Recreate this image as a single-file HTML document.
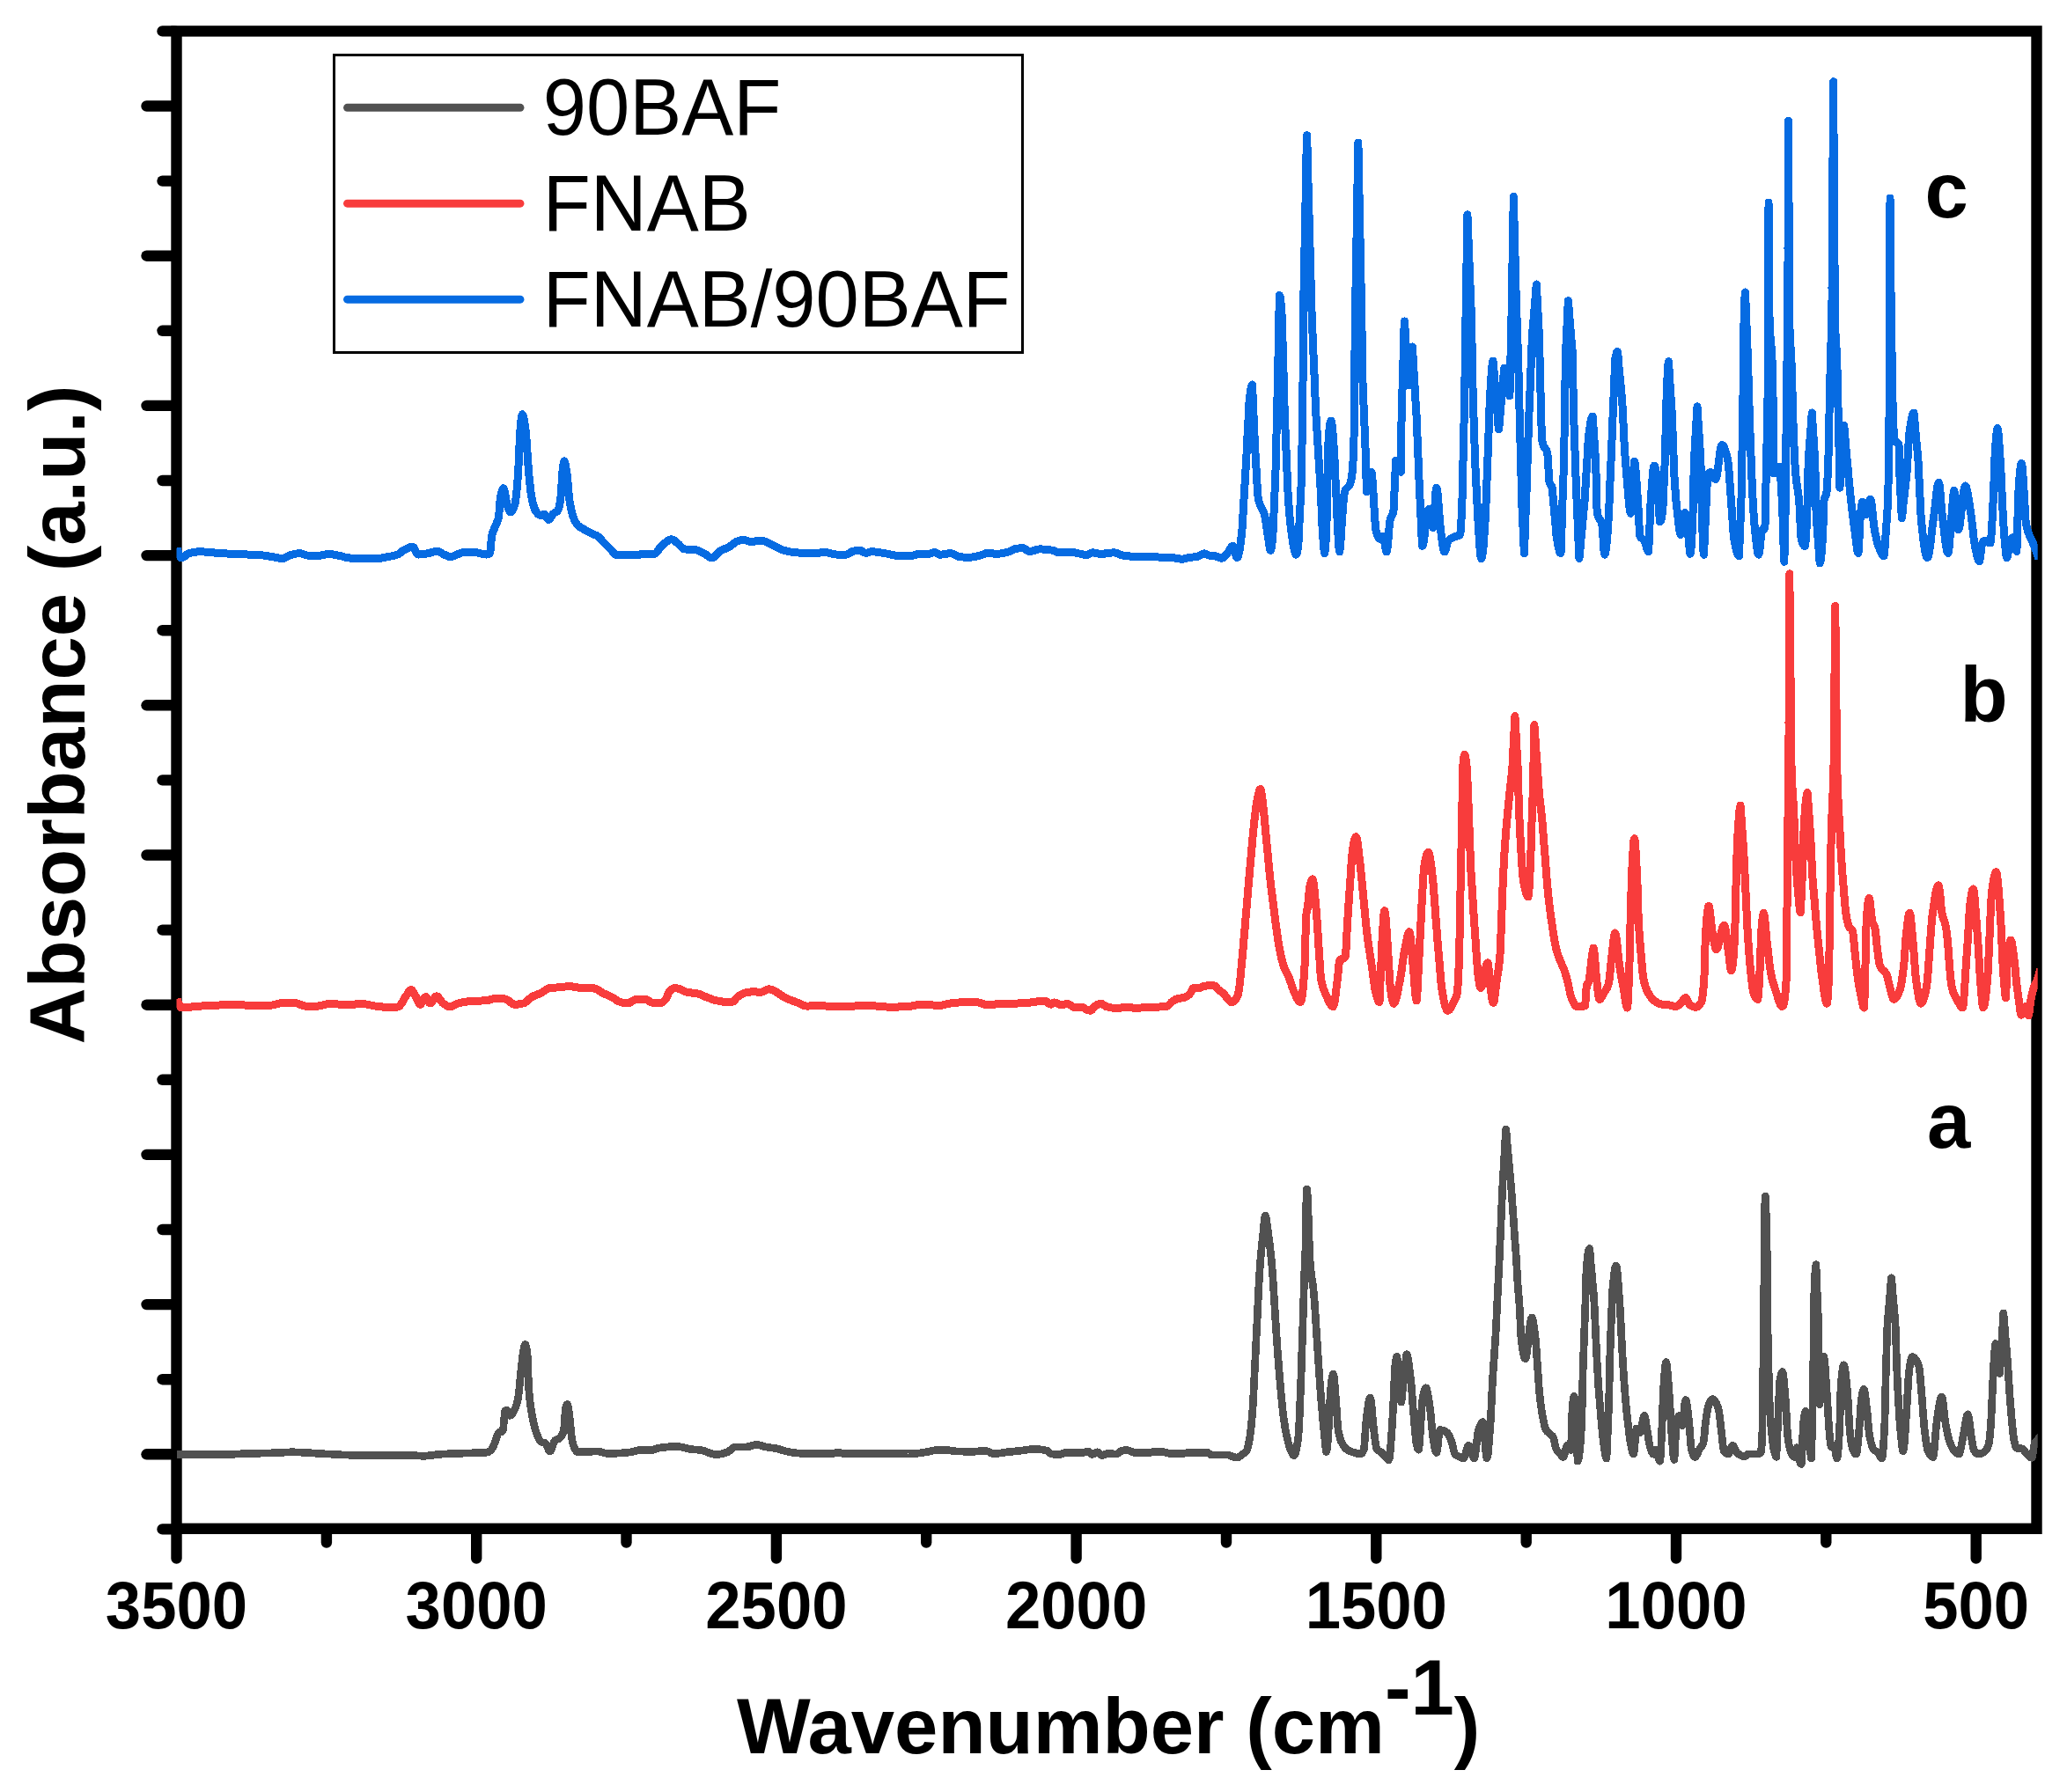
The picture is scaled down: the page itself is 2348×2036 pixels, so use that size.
<!DOCTYPE html>
<html><head><meta charset="utf-8"><title>FTIR</title>
<style>
html,body{margin:0;padding:0;background:#fff}
body{width:2348px;height:2036px;overflow:hidden}
svg{display:block}
text{font-family:"Liberation Sans",Arial,sans-serif;fill:#000}
.b{font-weight:bold}
</style></head><body>
<svg width="2348" height="2036" viewBox="0 0 2348 2036">
<rect width="2348" height="2036" fill="#fff"/>
<defs><clipPath id="cp"><rect x="200.5" y="35.4" width="2114.2" height="1701.3999999999999"/></clipPath></defs>

<g stroke="#000" stroke-width="12.4" stroke-linecap="round" fill="none">
<rect x="200.5" y="35.4" width="2113.0" height="1701.3999999999999" stroke-linejoin="miter"/>
<line x1="198.5" y1="120.5" x2="166.5" y2="120.5"/>
<line x1="198.5" y1="290.7" x2="166.5" y2="290.7"/>
<line x1="198.5" y1="460.9" x2="166.5" y2="460.9"/>
<line x1="198.5" y1="631.1" x2="166.5" y2="631.1"/>
<line x1="198.5" y1="801.3" x2="166.5" y2="801.3"/>
<line x1="198.5" y1="971.5" x2="166.5" y2="971.5"/>
<line x1="198.5" y1="1141.7" x2="166.5" y2="1141.7"/>
<line x1="198.5" y1="1311.9" x2="166.5" y2="1311.9"/>
<line x1="198.5" y1="1482.1" x2="166.5" y2="1482.1"/>
<line x1="198.5" y1="1652.3" x2="166.5" y2="1652.3"/>
<line x1="198.5" y1="35.4" x2="184.5" y2="35.4"/>
<line x1="198.5" y1="205.6" x2="184.5" y2="205.6"/>
<line x1="198.5" y1="375.8" x2="184.5" y2="375.8"/>
<line x1="198.5" y1="546.0" x2="184.5" y2="546.0"/>
<line x1="198.5" y1="716.2" x2="184.5" y2="716.2"/>
<line x1="198.5" y1="886.4" x2="184.5" y2="886.4"/>
<line x1="198.5" y1="1056.6" x2="184.5" y2="1056.6"/>
<line x1="198.5" y1="1226.8" x2="184.5" y2="1226.8"/>
<line x1="198.5" y1="1397.0" x2="184.5" y2="1397.0"/>
<line x1="198.5" y1="1567.2" x2="184.5" y2="1567.2"/>
<line x1="198.5" y1="1737.4" x2="184.5" y2="1737.4"/>
<line x1="200.5" y1="1738.8" x2="200.5" y2="1770.5"/>
<line x1="541.2" y1="1738.8" x2="541.2" y2="1770.5"/>
<line x1="881.9" y1="1738.8" x2="881.9" y2="1770.5"/>
<line x1="1222.6" y1="1738.8" x2="1222.6" y2="1770.5"/>
<line x1="1563.3" y1="1738.8" x2="1563.3" y2="1770.5"/>
<line x1="1904.0" y1="1738.8" x2="1904.0" y2="1770.5"/>
<line x1="2244.7" y1="1738.8" x2="2244.7" y2="1770.5"/>
<line x1="370.9" y1="1738.8" x2="370.9" y2="1752.5"/>
<line x1="711.5" y1="1738.8" x2="711.5" y2="1752.5"/>
<line x1="1052.2" y1="1738.8" x2="1052.2" y2="1752.5"/>
<line x1="1393.0" y1="1738.8" x2="1393.0" y2="1752.5"/>
<line x1="1733.7" y1="1738.8" x2="1733.7" y2="1752.5"/>
<line x1="2074.3" y1="1738.8" x2="2074.3" y2="1752.5"/>
</g>
<g fill="none" stroke-width="9" stroke-linejoin="round" stroke-linecap="butt" shape-rendering="crispEdges" clip-path="url(#cp)">
<polyline stroke="#515151" stroke-width="8.7" points="201.1,1652.7 207.4,1652.7 213.7,1652.7 220.0,1652.7 226.3,1652.6 232.5,1652.6 238.8,1652.5 245.1,1652.4 251.4,1652.4 257.7,1652.3 264.0,1652.2 265.7,1652.2 267.5,1652.1 269.2,1652.0 270.9,1652.0 272.6,1651.9 274.4,1651.8 276.1,1651.7 277.8,1651.6 279.6,1651.6 281.3,1651.5 284.5,1651.4 287.7,1651.3 290.9,1651.2 294.1,1651.2 297.4,1651.1 300.6,1651.0 303.8,1651.0 307.0,1650.9 310.2,1650.8 313.4,1650.7 315.2,1650.6 317.1,1650.5 318.9,1650.4 320.8,1650.3 322.6,1650.2 324.5,1650.1 326.3,1650.0 328.2,1649.9 330.0,1649.8 331.9,1649.8 333.8,1649.8 335.6,1649.9 337.4,1649.9 339.3,1650.0 341.1,1650.1 343.0,1650.2 344.8,1650.4 346.7,1650.5 348.5,1650.6 350.4,1650.7 352.6,1650.8 354.8,1650.9 357.1,1651.1 359.3,1651.2 361.5,1651.4 363.7,1651.5 365.9,1651.6 368.2,1651.8 370.4,1651.9 372.6,1652.0 375.3,1652.1 378.0,1652.3 380.7,1652.5 383.4,1652.6 386.1,1652.8 388.9,1652.9 391.6,1653.0 394.3,1653.1 397.0,1653.2 399.7,1653.2 403.4,1653.2 407.1,1653.2 410.8,1653.2 414.5,1653.2 418.2,1653.2 421.9,1653.2 425.6,1653.2 429.3,1653.2 433.0,1653.2 436.7,1653.2 439.2,1653.2 441.6,1653.2 444.1,1653.2 446.6,1653.2 449.0,1653.2 451.5,1653.2 454.0,1653.2 456.5,1653.2 458.9,1653.2 461.4,1653.2 463.4,1653.2 465.3,1653.3 467.3,1653.4 469.3,1653.6 471.2,1653.7 473.2,1653.8 475.2,1654.0 477.2,1654.1 479.1,1654.2 481.1,1654.2 483.1,1654.2 485.1,1654.0 487.0,1653.8 489.0,1653.6 491.0,1653.3 493.0,1653.1 495.0,1652.8 496.9,1652.6 498.9,1652.4 500.9,1652.2 503.9,1652.0 506.8,1651.9 509.8,1651.8 512.7,1651.6 515.7,1651.5 518.7,1651.4 521.6,1651.3 524.6,1651.2 527.5,1651.1 530.5,1651.0 532.7,1650.9 534.9,1650.9 537.2,1650.8 539.4,1650.8 541.6,1650.7 543.8,1650.7 546.0,1650.6 548.3,1650.5 550.5,1650.4 552.7,1650.2 553.4,1650.1 554.1,1649.9 554.8,1649.6 555.5,1649.2 556.2,1648.8 556.9,1648.3 557.6,1647.8 558.3,1647.0 559.0,1645.9 559.7,1644.6 560.5,1643.0 561.2,1641.3 561.9,1639.6 562.6,1637.9 563.3,1635.9 564.1,1633.5 564.8,1631.1 565.6,1629.2 566.3,1628.0 567.0,1627.5 567.7,1627.2 568.4,1627.0 569.1,1626.8 569.8,1626.6 570.5,1626.2 571.2,1625.6 571.8,1621.9 572.5,1614.6 573.1,1607.2 573.7,1603.4 574.3,1602.7 574.8,1602.3 575.4,1602.1 576.2,1602.7 577.0,1604.3 577.7,1606.1 578.5,1607.7 579.3,1608.3 580.1,1608.1 580.9,1607.5 581.7,1606.5 582.4,1605.3 583.2,1603.9 584.0,1602.4 584.8,1600.9 585.5,1599.3 586.3,1597.3 587.0,1594.8 587.8,1592.0 588.5,1588.6 589.2,1583.7 590.0,1576.9 590.7,1569.1 591.5,1561.1 592.2,1554.0 593.0,1546.7 593.8,1539.6 594.6,1534.3 595.3,1531.1 595.9,1528.5 596.6,1527.4 597.2,1528.3 597.9,1530.7 598.5,1534.5 599.1,1539.2 599.7,1549.9 600.2,1566.3 600.8,1578.7 601.5,1587.1 602.3,1593.9 603.0,1599.5 603.8,1604.1 604.5,1608.3 605.2,1612.0 605.9,1615.3 606.6,1618.4 607.3,1621.2 608.0,1623.7 608.7,1626.0 609.4,1628.0 610.1,1629.9 610.8,1631.7 611.5,1633.4 612.3,1635.0 613.0,1636.3 613.7,1637.3 614.4,1637.9 615.2,1638.3 615.9,1638.6 616.7,1638.8 617.5,1639.0 618.3,1639.2 619.0,1639.5 619.8,1639.9 620.5,1640.7 621.2,1642.2 621.9,1643.9 622.6,1645.7 623.3,1647.4 624.0,1648.5 624.7,1649.0 625.4,1648.5 626.1,1647.3 626.8,1645.5 627.5,1643.4 628.3,1641.3 629.0,1639.3 629.7,1637.7 630.4,1636.7 631.1,1636.2 631.8,1635.8 632.5,1635.6 633.2,1635.3 633.9,1635.0 634.6,1634.7 635.3,1634.2 636.0,1633.6 636.7,1632.9 637.4,1632.0 638.2,1630.8 638.9,1629.4 639.6,1627.7 640.3,1625.6 640.9,1620.5 641.5,1611.9 642.2,1603.3 642.8,1598.4 643.4,1596.9 643.9,1595.9 644.5,1595.5 645.3,1597.6 646.1,1602.5 646.9,1608.3 647.5,1613.9 648.1,1621.0 648.8,1628.0 649.4,1633.0 650.0,1636.4 650.7,1639.4 651.3,1641.8 652.0,1643.8 652.6,1645.3 653.3,1646.7 654.1,1647.9 654.8,1648.9 655.6,1649.6 656.3,1649.8 658.5,1649.8 660.7,1649.7 663.0,1649.6 665.2,1649.5 667.4,1649.4 669.6,1649.3 671.8,1649.2 674.1,1649.1 676.3,1649.0 678.5,1649.0 679.7,1649.1 681.0,1649.3 682.2,1649.5 683.5,1649.9 684.7,1650.2 685.9,1650.6 687.2,1651.0 688.4,1651.2 689.7,1651.4 690.9,1651.5 693.3,1651.5 695.7,1651.4 698.0,1651.3 700.4,1651.2 702.8,1651.1 705.2,1650.9 707.6,1650.7 709.9,1650.5 712.3,1650.3 714.7,1650.1 715.9,1649.9 717.2,1649.7 718.4,1649.4 719.6,1649.0 720.9,1648.7 722.1,1648.4 723.3,1648.1 724.5,1647.8 725.8,1647.7 727.0,1647.6 728.2,1647.6 729.5,1647.6 730.7,1647.6 731.9,1647.6 733.1,1647.6 734.4,1647.6 735.6,1647.6 736.8,1647.6 738.1,1647.6 739.3,1647.6 740.3,1647.5 741.3,1647.4 742.3,1647.1 743.3,1646.8 744.2,1646.5 745.2,1646.2 746.2,1645.8 747.2,1645.5 748.2,1645.3 749.2,1645.1 751.2,1644.8 753.2,1644.6 755.1,1644.3 757.1,1644.1 759.1,1643.9 761.1,1643.7 763.1,1643.6 765.0,1643.5 767.0,1643.4 769.0,1643.4 770.5,1643.5 772.0,1643.7 773.4,1643.9 774.9,1644.3 776.4,1644.7 777.9,1645.1 779.4,1645.5 780.8,1645.8 782.3,1646.2 783.8,1646.4 785.0,1646.5 786.3,1646.7 787.5,1646.8 788.7,1646.9 790.0,1647.0 791.2,1647.1 792.4,1647.2 793.6,1647.3 794.9,1647.4 796.1,1647.6 797.8,1647.9 799.6,1648.4 801.3,1649.0 803.0,1649.7 804.8,1650.4 806.5,1651.0 808.2,1651.6 809.9,1652.1 811.7,1652.4 813.4,1652.5 814.6,1652.5 815.9,1652.4 817.1,1652.2 818.3,1652.0 819.5,1651.8 820.8,1651.5 822.0,1651.2 823.2,1650.8 824.5,1650.5 825.7,1650.1 826.7,1649.7 827.7,1649.1 828.7,1648.3 829.7,1647.5 830.7,1646.6 831.6,1645.8 832.6,1645.1 833.6,1644.4 834.6,1644.0 835.6,1643.9 836.8,1643.9 838.1,1643.9 839.3,1643.9 840.5,1643.9 841.8,1643.9 843.0,1643.9 844.2,1643.9 845.4,1643.9 846.7,1643.9 847.9,1643.9 849.0,1643.8 850.1,1643.6 851.2,1643.4 852.3,1643.0 853.5,1642.7 854.6,1642.3 855.7,1641.9 856.8,1641.7 857.9,1641.5 859.0,1641.4 860.1,1641.5 861.2,1641.6 862.3,1641.8 863.4,1642.1 864.5,1642.4 865.7,1642.7 866.8,1643.1 867.9,1643.4 869.0,1643.7 870.1,1643.9 871.3,1644.1 872.6,1644.3 873.8,1644.5 875.1,1644.7 876.3,1644.9 877.5,1645.1 878.8,1645.2 880.0,1645.4 881.3,1645.7 882.5,1645.9 883.7,1646.2 885.0,1646.5 886.2,1646.9 887.4,1647.3 888.6,1647.7 889.9,1648.0 891.1,1648.4 892.3,1648.8 893.6,1649.1 894.8,1649.3 896.5,1649.6 898.3,1649.9 900.0,1650.2 901.7,1650.4 903.5,1650.7 905.2,1650.9 906.9,1651.0 908.6,1651.2 910.4,1651.3 912.1,1651.3 915.6,1651.3 919.0,1651.3 922.5,1651.3 925.9,1651.3 929.4,1651.3 932.8,1651.3 936.2,1651.3 939.7,1651.3 943.1,1651.3 946.6,1651.3 947.3,1651.2 948.0,1651.1 948.7,1650.9 949.4,1650.7 950.1,1650.5 950.8,1650.4 951.5,1650.3 952.5,1650.3 953.5,1650.5 954.5,1650.6 955.5,1650.8 956.5,1651.0 957.4,1651.3 958.4,1651.5 959.4,1651.6 960.4,1651.8 961.4,1651.8 964.9,1651.8 968.3,1651.7 971.8,1651.7 975.2,1651.6 978.6,1651.5 982.1,1651.5 985.5,1651.4 989.0,1651.4 992.4,1651.3 995.9,1651.3 999.9,1651.3 1003.8,1651.4 1007.8,1651.4 1011.7,1651.5 1015.7,1651.5 1019.6,1651.6 1023.6,1651.7 1027.5,1651.7 1031.5,1651.8 1035.4,1651.8 1036.9,1651.8 1038.4,1651.7 1039.8,1651.6 1041.3,1651.4 1042.8,1651.2 1044.3,1651.0 1045.8,1650.8 1047.2,1650.5 1048.7,1650.3 1050.2,1650.1 1051.7,1649.9 1053.2,1649.6 1054.6,1649.3 1056.1,1648.9 1057.6,1648.6 1059.1,1648.3 1060.6,1648.0 1062.0,1647.8 1063.5,1647.7 1065.0,1647.6 1066.0,1647.6 1067.0,1647.6 1068.0,1647.6 1069.0,1647.6 1070.0,1647.6 1070.9,1647.6 1071.9,1647.6 1072.9,1647.6 1073.9,1647.6 1074.9,1647.6 1075.9,1647.6 1076.9,1647.7 1077.9,1647.8 1078.9,1648.0 1079.8,1648.1 1080.8,1648.3 1081.8,1648.5 1082.8,1648.6 1083.8,1648.7 1084.8,1648.8 1086.8,1648.9 1088.7,1649.0 1090.7,1649.0 1092.7,1649.1 1094.7,1649.2 1096.6,1649.2 1098.6,1649.2 1100.6,1649.3 1102.5,1649.3 1104.5,1649.3 1106.0,1649.3 1107.5,1649.2 1108.9,1649.1 1110.4,1648.9 1111.9,1648.8 1113.4,1648.7 1114.9,1648.5 1116.3,1648.4 1117.8,1648.3 1119.3,1648.3 1120.3,1648.4 1121.3,1648.7 1122.3,1649.1 1123.3,1649.5 1124.2,1650.0 1125.2,1650.6 1126.2,1651.0 1127.2,1651.4 1128.2,1651.7 1129.2,1651.8 1130.4,1651.8 1131.7,1651.7 1132.9,1651.5 1134.1,1651.3 1135.3,1651.1 1136.6,1650.9 1137.8,1650.7 1139.0,1650.5 1140.3,1650.3 1141.5,1650.1 1143.2,1649.9 1145.0,1649.7 1146.7,1649.5 1148.4,1649.3 1150.2,1649.2 1151.9,1649.0 1153.6,1648.8 1155.3,1648.7 1157.1,1648.5 1158.8,1648.3 1160.5,1648.1 1162.3,1647.9 1164.0,1647.6 1165.7,1647.4 1167.4,1647.1 1169.2,1646.9 1170.9,1646.7 1172.6,1646.5 1174.4,1646.4 1176.1,1646.4 1177.5,1646.4 1178.9,1646.5 1180.3,1646.6 1181.7,1646.8 1183.1,1647.0 1184.5,1647.2 1185.9,1647.5 1187.3,1647.8 1188.7,1648.2 1190.1,1648.6 1190.8,1649.0 1191.6,1649.8 1192.3,1650.6 1193.1,1651.3 1193.8,1651.7 1194.7,1651.9 1195.6,1652.1 1196.4,1652.2 1197.3,1652.3 1198.2,1652.4 1199.1,1652.5 1200.0,1652.6 1200.8,1652.7 1201.7,1652.7 1202.6,1652.7 1203.5,1652.6 1204.4,1652.5 1205.2,1652.2 1206.1,1651.9 1207.0,1651.6 1207.9,1651.2 1208.8,1650.9 1209.6,1650.6 1210.5,1650.5 1211.4,1650.4 1212.4,1650.4 1213.4,1650.4 1214.4,1650.5 1215.4,1650.5 1216.5,1650.5 1217.5,1650.6 1218.5,1650.6 1219.5,1650.7 1220.5,1650.7 1221.5,1650.7 1222.4,1650.7 1223.3,1650.7 1224.1,1650.7 1225.0,1650.6 1225.9,1650.6 1226.8,1650.6 1227.7,1650.5 1228.5,1650.5 1229.4,1650.5 1230.3,1650.4 1231.0,1650.3 1231.7,1650.1 1232.4,1649.9 1233.2,1649.6 1233.9,1649.3 1234.6,1649.1 1235.3,1649.0 1236.0,1648.9 1236.7,1649.2 1237.5,1649.8 1238.2,1650.6 1238.9,1651.4 1239.7,1652.0 1240.4,1652.3 1241.2,1652.2 1242.0,1651.9 1242.8,1651.5 1243.6,1651.0 1244.3,1650.6 1245.1,1650.2 1245.9,1649.9 1246.7,1649.8 1247.4,1650.0 1248.1,1650.6 1248.8,1651.3 1249.6,1652.1 1250.3,1652.8 1251.0,1653.4 1251.7,1653.6 1252.5,1653.5 1253.3,1653.3 1254.1,1653.0 1254.8,1652.7 1255.6,1652.3 1256.4,1652.0 1257.2,1651.8 1258.0,1651.7 1259.0,1651.7 1260.0,1651.7 1261.0,1651.7 1262.0,1651.8 1263.0,1651.8 1264.1,1651.8 1265.1,1651.9 1266.1,1651.9 1267.1,1651.9 1268.1,1651.9 1268.8,1651.8 1269.6,1651.5 1270.3,1651.1 1271.1,1650.5 1271.8,1650.0 1272.6,1649.4 1273.3,1648.8 1274.1,1648.4 1274.8,1648.1 1275.6,1647.9 1276.3,1647.9 1277.0,1647.8 1277.7,1647.8 1278.5,1647.7 1279.2,1647.7 1279.9,1647.7 1280.6,1647.7 1281.5,1647.8 1282.4,1648.0 1283.2,1648.3 1284.1,1648.7 1285.0,1649.1 1285.9,1649.4 1286.8,1649.8 1287.6,1650.1 1288.5,1650.3 1289.4,1650.4 1291.0,1650.4 1292.7,1650.4 1294.3,1650.4 1296.0,1650.4 1297.6,1650.4 1299.2,1650.4 1300.9,1650.4 1302.5,1650.4 1304.2,1650.4 1305.8,1650.4 1306.6,1650.3 1307.4,1650.2 1308.2,1650.0 1308.9,1649.8 1309.7,1649.6 1310.5,1649.4 1311.3,1649.3 1312.1,1649.2 1312.8,1649.2 1313.6,1649.2 1314.3,1649.2 1315.1,1649.2 1315.8,1649.3 1316.6,1649.3 1317.3,1649.3 1318.1,1649.3 1318.8,1649.4 1319.6,1649.4 1320.7,1649.5 1321.9,1649.7 1323.0,1650.0 1324.1,1650.3 1325.2,1650.6 1326.4,1650.9 1327.5,1651.2 1328.6,1651.5 1329.8,1651.6 1330.9,1651.7 1332.2,1651.7 1333.4,1651.7 1334.7,1651.7 1335.9,1651.6 1337.2,1651.6 1338.5,1651.6 1339.7,1651.5 1341.0,1651.5 1342.2,1651.5 1343.5,1651.4 1344.3,1651.3 1345.0,1651.3 1345.8,1651.1 1346.5,1651.0 1347.3,1650.9 1348.1,1650.7 1348.8,1650.6 1349.6,1650.5 1350.3,1650.4 1351.1,1650.4 1353.1,1650.4 1355.1,1650.4 1357.1,1650.4 1359.1,1650.4 1361.2,1650.4 1363.2,1650.4 1365.2,1650.4 1367.2,1650.4 1369.2,1650.4 1371.2,1650.4 1371.9,1650.5 1372.6,1650.9 1373.3,1651.4 1374.1,1652.0 1374.8,1652.5 1375.5,1652.9 1376.2,1653.0 1378.0,1653.0 1379.7,1653.0 1381.5,1653.0 1383.2,1653.0 1385.0,1653.0 1386.8,1653.0 1388.5,1653.0 1390.3,1653.0 1392.0,1653.0 1393.8,1653.0 1394.6,1653.1 1395.4,1653.2 1396.2,1653.4 1396.9,1653.7 1397.7,1654.0 1398.5,1654.3 1399.3,1654.6 1400.1,1654.8 1400.8,1655.0 1401.6,1655.3 1402.3,1655.5 1403.0,1655.7 1403.7,1655.9 1404.5,1656.1 1405.2,1656.1 1406.0,1656.0 1406.8,1655.7 1407.5,1655.3 1408.3,1654.7 1409.1,1654.1 1409.9,1653.5 1410.6,1652.9 1411.4,1652.3 1412.1,1651.8 1412.8,1651.4 1413.6,1650.9 1414.3,1650.4 1415.0,1649.7 1415.7,1648.9 1416.4,1647.6 1417.1,1645.7 1417.8,1643.1 1418.4,1640.0 1419.1,1636.5 1419.8,1632.7 1420.4,1628.4 1421.1,1622.8 1421.7,1616.2 1422.4,1608.7 1423.0,1600.4 1423.6,1590.4 1424.2,1578.1 1424.9,1564.8 1425.5,1551.8 1426.1,1539.8 1426.7,1527.7 1427.3,1515.5 1427.9,1503.3 1428.5,1490.8 1429.1,1478.1 1429.7,1465.8 1430.3,1454.7 1430.8,1445.8 1431.4,1437.6 1431.9,1430.5 1432.6,1423.2 1433.2,1416.8 1433.8,1410.9 1434.5,1405.0 1435.2,1397.6 1435.9,1389.8 1436.6,1383.5 1437.3,1381.0 1437.9,1382.3 1438.6,1385.5 1439.2,1390.1 1439.9,1395.2 1440.5,1400.0 1441.2,1405.3 1442.0,1410.9 1442.7,1416.9 1443.4,1423.5 1444.2,1430.6 1444.9,1438.5 1445.7,1448.9 1446.5,1461.2 1447.3,1474.4 1448.1,1487.1 1448.7,1497.0 1449.4,1507.0 1450.0,1516.9 1450.7,1526.6 1451.3,1535.6 1452.0,1544.4 1452.6,1552.8 1453.3,1560.9 1453.9,1568.6 1454.6,1576.1 1455.2,1583.2 1455.9,1590.3 1456.5,1597.0 1457.2,1603.1 1457.8,1608.4 1458.5,1613.4 1459.2,1617.9 1459.8,1622.1 1460.5,1626.0 1461.2,1629.5 1461.9,1632.7 1462.7,1636.2 1463.5,1639.6 1464.3,1642.6 1465.1,1645.2 1465.9,1647.3 1466.6,1648.8 1467.3,1650.3 1468.0,1651.7 1468.6,1652.8 1469.3,1653.5 1470.0,1653.8 1470.8,1653.1 1471.6,1651.1 1472.4,1647.9 1473.2,1643.7 1474.0,1638.6 1474.8,1632.7 1475.4,1625.2 1476.0,1613.3 1476.6,1599.0 1477.2,1584.2 1477.6,1573.2 1478.1,1561.1 1478.5,1548.3 1478.9,1535.6 1479.3,1523.7 1479.7,1511.5 1480.1,1499.3 1480.5,1487.1 1480.9,1474.1 1481.3,1460.4 1481.7,1447.9 1482.1,1438.5 1482.7,1430.0 1482.9,1419.6 1483.1,1403.4 1483.3,1390.0 1483.7,1371.8 1484.1,1357.1 1484.5,1351.0 1485.2,1357.6 1485.8,1372.9 1486.5,1390.0 1487.0,1403.7 1487.4,1419.0 1487.9,1430.0 1488.7,1439.8 1489.5,1447.0 1490.2,1452.5 1491.0,1457.6 1491.8,1463.4 1492.6,1470.9 1493.2,1479.0 1493.9,1488.6 1494.5,1498.9 1495.2,1509.4 1495.8,1519.4 1496.5,1529.3 1497.1,1539.3 1497.8,1549.2 1498.4,1558.8 1499.1,1568.0 1499.7,1576.6 1500.4,1585.0 1501.0,1593.2 1501.7,1601.0 1502.3,1608.4 1502.9,1614.9 1503.5,1621.1 1504.1,1627.0 1504.7,1632.7 1505.4,1639.8 1506.0,1646.7 1506.7,1649.7 1507.4,1646.6 1508.2,1638.5 1508.9,1627.8 1509.6,1616.5 1510.1,1605.9 1510.7,1593.5 1511.2,1584.2 1511.8,1577.2 1512.5,1570.8 1513.1,1565.7 1513.8,1562.3 1514.4,1561.0 1515.1,1563.1 1515.7,1568.5 1516.4,1575.9 1517.0,1584.3 1517.7,1592.3 1518.5,1603.6 1519.3,1616.1 1520.1,1624.6 1520.8,1628.3 1521.5,1631.4 1522.2,1633.9 1522.8,1636.0 1523.5,1637.8 1524.2,1639.2 1525.0,1640.7 1525.8,1642.0 1526.6,1643.2 1527.4,1644.3 1528.2,1645.2 1529.0,1646.1 1529.8,1646.7 1530.6,1647.3 1531.4,1647.8 1532.2,1648.2 1533.0,1648.6 1533.8,1648.9 1534.7,1649.2 1535.5,1649.5 1536.3,1649.8 1537.1,1650.0 1537.9,1650.3 1538.7,1650.5 1539.4,1650.7 1540.1,1651.0 1540.9,1651.2 1541.6,1651.4 1542.3,1651.6 1543.0,1651.8 1543.8,1652.0 1544.5,1652.1 1545.2,1652.1 1546.0,1651.9 1546.8,1651.3 1547.6,1650.3 1548.4,1649.0 1549.2,1647.3 1549.8,1642.6 1550.5,1633.8 1551.1,1624.0 1551.7,1616.5 1552.5,1609.8 1553.3,1603.2 1554.1,1597.3 1554.9,1592.5 1555.7,1589.3 1556.5,1588.1 1557.2,1590.1 1557.9,1595.3 1558.5,1602.5 1559.2,1610.6 1559.9,1618.3 1560.6,1624.6 1561.2,1629.7 1561.9,1635.0 1562.5,1639.8 1563.2,1643.6 1563.8,1645.7 1564.5,1646.7 1565.2,1647.5 1565.9,1648.1 1566.7,1648.6 1567.4,1649.0 1568.1,1649.4 1568.8,1649.9 1569.5,1650.5 1570.1,1651.1 1570.8,1651.8 1571.4,1652.5 1572.1,1653.1 1572.7,1653.8 1573.4,1654.6 1574.1,1655.5 1574.8,1656.4 1575.5,1657.2 1576.2,1657.9 1576.9,1658.4 1577.6,1658.6 1578.4,1656.1 1579.2,1649.3 1580.0,1639.7 1580.8,1628.3 1581.6,1616.5 1582.1,1607.1 1582.7,1595.6 1583.2,1584.2 1583.7,1572.0 1584.3,1559.8 1584.8,1551.8 1585.5,1546.4 1586.2,1542.6 1586.9,1541.1 1587.4,1545.4 1588.0,1552.5 1588.7,1559.8 1589.3,1567.1 1590.0,1574.4 1590.7,1581.7 1591.3,1588.8 1591.8,1593.1 1592.5,1588.6 1593.1,1581.1 1593.8,1575.0 1594.5,1568.9 1595.1,1562.9 1595.8,1556.8 1596.5,1550.7 1597.1,1543.2 1597.8,1538.7 1598.6,1539.9 1599.4,1543.3 1600.2,1548.4 1601.0,1554.5 1601.8,1561.2 1602.6,1568.0 1603.3,1574.5 1603.9,1582.7 1604.6,1591.6 1605.2,1600.4 1605.9,1608.4 1606.7,1617.8 1607.5,1627.4 1608.3,1635.5 1609.1,1640.8 1609.7,1643.2 1610.3,1645.3 1610.9,1646.8 1611.5,1647.3 1612.1,1644.1 1612.8,1636.2 1613.4,1626.1 1614.0,1616.5 1614.8,1603.0 1615.6,1592.3 1616.4,1587.2 1617.2,1582.9 1618.0,1579.6 1618.8,1577.5 1619.6,1576.7 1620.3,1577.4 1621.0,1579.5 1621.7,1582.6 1622.4,1586.5 1623.1,1590.9 1623.8,1595.6 1624.5,1600.4 1625.1,1605.9 1625.8,1613.0 1626.4,1620.5 1627.1,1627.5 1627.7,1632.7 1628.4,1636.9 1629.1,1641.1 1629.8,1644.8 1630.4,1647.8 1631.1,1649.8 1631.8,1650.5 1632.6,1647.8 1633.4,1641.4 1634.2,1633.7 1635.0,1627.3 1635.8,1624.6 1636.6,1624.6 1637.4,1624.8 1638.2,1624.9 1639.0,1625.2 1639.8,1625.5 1640.7,1625.9 1641.5,1626.3 1642.3,1626.8 1643.1,1627.3 1643.9,1627.9 1644.6,1628.6 1645.3,1629.6 1646.0,1630.9 1646.7,1632.4 1647.4,1634.0 1648.1,1635.8 1648.8,1637.6 1649.6,1640.3 1650.4,1643.8 1651.2,1647.4 1652.0,1650.4 1652.8,1652.1 1653.5,1652.8 1654.2,1653.3 1654.9,1653.8 1655.7,1654.2 1656.4,1654.5 1657.1,1654.8 1657.8,1655.1 1658.5,1655.4 1659.3,1655.8 1660.1,1656.2 1660.9,1656.6 1661.7,1656.9 1662.5,1657.0 1663.2,1656.4 1663.9,1654.7 1664.6,1652.4 1665.3,1649.7 1666.1,1647.0 1666.8,1644.7 1667.5,1643.0 1668.2,1642.4 1669.0,1643.0 1669.8,1644.7 1670.6,1647.0 1671.4,1649.7 1672.2,1652.4 1673.0,1654.7 1673.8,1656.4 1674.6,1657.0 1675.3,1655.4 1676.0,1651.4 1676.7,1645.7 1677.4,1639.3 1678.1,1633.1 1678.8,1627.9 1679.5,1624.6 1680.2,1622.6 1680.9,1620.8 1681.6,1619.1 1682.3,1617.7 1683.0,1616.7 1683.7,1615.9 1684.4,1615.7 1685.2,1618.8 1685.9,1626.4 1686.7,1636.3 1687.5,1646.3 1688.2,1653.9 1689.0,1657.0 1689.7,1655.3 1690.4,1650.7 1691.0,1643.8 1691.7,1635.3 1692.4,1626.0 1693.1,1616.5 1693.7,1606.2 1694.3,1593.3 1694.9,1579.8 1695.5,1568.0 1696.2,1557.5 1696.8,1548.2 1697.5,1539.2 1698.1,1529.9 1698.8,1519.4 1699.4,1508.3 1700.0,1496.1 1700.6,1483.4 1701.2,1470.9 1701.8,1459.0 1702.4,1447.2 1703.0,1435.1 1703.6,1422.4 1703.9,1414.6 1704.3,1406.5 1704.9,1393.0 1705.4,1379.4 1706.0,1365.9 1706.4,1357.7 1706.7,1350.0 1707.1,1342.3 1707.6,1335.3 1708.3,1322.8 1709.0,1310.2 1709.7,1297.7 1710.2,1288.5 1710.6,1283.0 1711.3,1288.5 1711.9,1297.7 1712.6,1305.2 1713.3,1312.7 1714.0,1320.3 1714.7,1327.8 1715.4,1335.3 1716.0,1342.4 1716.7,1350.0 1717.3,1358.5 1718.0,1367.6 1718.8,1378.8 1719.6,1390.0 1720.3,1401.2 1721.1,1412.4 1721.8,1421.0 1722.4,1430.0 1723.1,1442.4 1723.8,1454.7 1724.4,1463.2 1725.0,1470.6 1725.7,1478.2 1726.3,1487.1 1726.8,1498.2 1727.4,1510.8 1727.9,1519.4 1728.7,1526.2 1729.5,1532.1 1730.3,1536.9 1731.1,1540.6 1731.9,1542.9 1732.7,1543.7 1733.4,1542.4 1734.2,1538.8 1734.9,1533.6 1735.6,1527.3 1736.3,1520.4 1737.1,1513.4 1737.8,1507.1 1738.5,1501.9 1739.3,1498.3 1740.0,1497.0 1740.7,1497.9 1741.4,1500.4 1742.0,1504.1 1742.7,1508.7 1743.4,1513.9 1744.1,1519.4 1744.7,1525.7 1745.3,1534.0 1745.9,1543.1 1746.5,1551.8 1747.1,1560.3 1747.7,1569.2 1748.3,1577.4 1748.9,1584.2 1749.6,1590.2 1750.2,1595.6 1750.9,1600.4 1751.5,1604.7 1752.2,1608.4 1753.0,1612.6 1753.8,1616.5 1754.6,1620.0 1755.4,1622.8 1756.2,1624.6 1756.9,1625.6 1757.6,1626.5 1758.3,1627.1 1759.0,1627.7 1759.7,1628.3 1760.4,1628.9 1761.1,1629.5 1761.7,1630.1 1762.4,1630.6 1763.0,1631.1 1763.7,1631.8 1764.3,1632.7 1764.9,1634.5 1765.6,1637.4 1766.2,1640.7 1766.9,1643.7 1767.5,1645.7 1768.2,1647.0 1768.9,1648.1 1769.6,1649.0 1770.3,1649.9 1771.0,1650.6 1771.7,1651.3 1772.4,1652.1 1773.2,1653.1 1774.0,1654.2 1774.8,1655.1 1775.6,1655.4 1776.3,1654.7 1777.0,1652.8 1777.7,1650.3 1778.4,1647.5 1779.1,1645.0 1779.8,1643.1 1780.5,1642.4 1781.3,1642.9 1782.1,1644.1 1782.9,1645.6 1783.7,1646.8 1784.5,1647.3 1784.8,1640.5 1785.0,1626.9 1785.3,1616.5 1785.9,1604.7 1786.5,1595.2 1787.2,1588.7 1787.8,1586.4 1788.4,1587.8 1789.1,1591.8 1789.7,1598.1 1790.4,1606.4 1791.0,1616.5 1791.3,1625.9 1791.5,1640.7 1791.8,1654.2 1792.1,1660.2 1792.9,1659.0 1793.6,1655.2 1794.4,1649.1 1795.2,1640.6 1795.9,1629.7 1796.7,1616.5 1796.9,1610.3 1797.1,1602.3 1797.4,1590.2 1797.6,1578.1 1797.9,1566.0 1798.1,1558.6 1798.3,1551.8 1798.6,1544.3 1798.8,1537.6 1799.3,1525.5 1799.7,1513.4 1800.2,1501.3 1800.4,1494.3 1800.7,1487.1 1801.1,1474.0 1801.5,1459.3 1801.9,1446.4 1802.3,1438.5 1803.0,1431.8 1803.6,1426.3 1804.3,1422.1 1804.9,1419.5 1805.6,1418.6 1806.1,1422.9 1806.7,1430.1 1807.3,1437.4 1808.0,1444.8 1808.7,1452.1 1809.3,1459.4 1809.9,1464.8 1810.4,1470.9 1811.0,1480.8 1811.6,1493.3 1812.2,1506.7 1812.8,1519.4 1813.4,1532.2 1814.0,1545.1 1814.7,1557.3 1815.3,1568.0 1815.9,1577.4 1816.6,1585.9 1817.2,1593.7 1817.9,1601.2 1818.5,1608.4 1819.1,1615.7 1819.8,1622.9 1820.4,1629.8 1821.1,1635.9 1821.7,1640.8 1822.4,1645.3 1823.0,1649.7 1823.7,1653.4 1824.3,1656.0 1825.0,1657.0 1825.5,1644.5 1826.0,1634.0 1826.4,1623.4 1826.9,1612.9 1827.4,1600.4 1827.6,1593.7 1827.8,1586.1 1828.1,1574.0 1828.3,1562.0 1828.6,1549.9 1828.8,1542.4 1829.0,1535.6 1829.3,1528.1 1829.5,1521.4 1830.0,1509.3 1830.4,1497.2 1830.9,1485.1 1831.1,1477.1 1831.4,1470.9 1832.1,1461.5 1832.9,1453.5 1833.6,1447.0 1834.3,1442.1 1835.1,1439.1 1835.8,1438.1 1836.5,1440.2 1837.3,1446.0 1838.0,1454.5 1838.8,1464.8 1839.5,1476.0 1840.3,1487.1 1840.9,1497.7 1841.5,1510.5 1842.2,1523.7 1842.8,1535.6 1843.4,1546.4 1844.1,1556.9 1844.7,1566.8 1845.4,1575.9 1846.0,1584.2 1846.6,1591.7 1847.3,1598.5 1847.9,1604.9 1848.6,1610.9 1849.2,1616.5 1849.9,1622.1 1850.5,1627.6 1851.2,1632.7 1851.8,1637.2 1852.5,1640.8 1853.1,1643.9 1853.8,1647.0 1854.4,1649.6 1855.1,1651.4 1855.7,1652.1 1856.3,1649.1 1857.0,1641.9 1857.6,1633.2 1858.3,1626.0 1858.9,1623.0 1859.6,1623.4 1860.3,1624.3 1861.0,1625.5 1861.6,1626.6 1862.3,1627.5 1863.0,1627.9 1863.8,1626.4 1864.6,1622.8 1865.4,1618.1 1866.2,1613.4 1867.0,1609.8 1867.8,1608.3 1868.5,1609.4 1869.1,1612.3 1869.8,1616.3 1870.4,1620.6 1871.1,1624.6 1871.7,1628.5 1872.4,1633.0 1873.0,1637.4 1873.7,1641.3 1874.3,1644.0 1875.0,1646.0 1875.7,1647.9 1876.3,1649.6 1877.0,1650.9 1877.7,1651.8 1878.4,1652.1 1879.2,1650.9 1880.0,1648.5 1880.8,1647.3 1881.6,1648.3 1882.4,1650.6 1883.2,1653.7 1884.0,1656.9 1884.8,1659.2 1885.6,1660.2 1886.2,1655.8 1886.8,1644.9 1887.5,1630.7 1888.1,1616.5 1888.6,1602.8 1889.2,1587.6 1889.7,1576.1 1890.4,1565.6 1891.2,1556.5 1891.9,1550.0 1892.6,1547.6 1893.3,1549.9 1894.0,1556.0 1894.8,1564.6 1895.5,1574.5 1896.2,1584.2 1897.0,1596.9 1897.8,1611.7 1898.6,1624.6 1899.2,1633.5 1899.9,1642.6 1900.5,1650.7 1901.2,1656.4 1901.8,1658.6 1902.4,1652.6 1903.0,1639.0 1903.7,1624.7 1904.3,1616.5 1904.9,1613.8 1905.6,1611.6 1906.2,1609.9 1906.9,1608.8 1907.5,1608.4 1908.1,1609.6 1908.8,1612.4 1909.4,1615.8 1910.1,1618.6 1910.7,1619.8 1911.4,1617.6 1912.1,1612.2 1912.8,1605.2 1913.4,1598.1 1914.1,1592.7 1914.8,1590.5 1915.6,1592.1 1916.4,1596.3 1917.2,1602.3 1918.0,1609.3 1918.8,1616.5 1919.4,1623.5 1920.0,1632.4 1920.6,1640.7 1921.2,1645.7 1921.9,1648.4 1922.6,1650.8 1923.2,1652.7 1923.9,1654.2 1924.6,1655.1 1925.3,1655.4 1926.0,1655.1 1926.7,1654.3 1927.4,1653.2 1928.2,1651.7 1928.9,1650.2 1929.6,1648.5 1930.3,1647.0 1931.0,1645.7 1931.8,1644.6 1932.6,1643.6 1933.4,1642.5 1934.2,1641.2 1935.0,1639.2 1935.6,1635.5 1936.2,1629.2 1936.8,1622.2 1937.4,1616.5 1938.1,1611.6 1938.7,1607.0 1939.4,1602.8 1940.0,1599.4 1940.7,1597.1 1941.5,1595.1 1942.3,1593.4 1943.1,1591.9 1943.9,1590.7 1944.7,1590.0 1945.5,1589.7 1946.2,1589.9 1946.9,1590.3 1947.7,1591.1 1948.4,1592.1 1949.1,1593.3 1949.8,1594.8 1950.6,1596.5 1951.3,1598.4 1952.0,1600.4 1952.6,1603.3 1953.3,1608.0 1953.9,1613.5 1954.6,1619.3 1955.2,1624.6 1955.9,1630.1 1956.5,1636.3 1957.2,1642.1 1957.8,1646.6 1958.5,1648.9 1959.3,1649.9 1960.1,1650.6 1960.9,1651.3 1961.7,1651.7 1962.5,1652.0 1963.3,1652.1 1964.0,1651.6 1964.7,1650.2 1965.4,1648.2 1966.1,1646.2 1966.8,1644.2 1967.5,1642.8 1968.2,1642.3 1969.0,1642.8 1969.8,1644.1 1970.6,1645.9 1971.4,1647.8 1972.2,1649.5 1973.0,1650.5 1973.8,1651.2 1974.7,1651.8 1975.5,1652.4 1976.4,1652.9 1977.2,1653.4 1978.1,1653.8 1979.0,1654.1 1979.8,1654.4 1980.7,1654.5 1981.5,1654.6 1982.3,1654.4 1983.1,1654.0 1983.9,1653.3 1984.7,1652.7 1985.5,1652.3 1986.3,1652.1 1987.3,1652.1 1988.2,1652.1 1989.2,1652.1 1990.2,1652.1 1991.2,1652.1 1992.1,1652.1 1993.1,1652.1 1994.1,1652.1 1995.0,1652.1 1996.0,1652.1 1996.7,1652.1 1997.4,1652.0 1998.0,1651.7 1998.7,1651.4 1999.4,1651.0 2000.1,1650.5 2000.6,1648.1 2001.2,1642.0 2001.7,1632.7 2001.9,1625.5 2002.1,1613.6 2002.3,1599.1 2002.5,1584.2 2002.6,1577.3 2002.7,1569.9 2002.8,1557.8 2003.0,1545.8 2003.1,1533.7 2003.2,1526.7 2003.3,1519.4 2003.4,1510.7 2003.5,1501.6 2003.6,1490.3 2003.7,1479.0 2003.8,1467.6 2003.9,1456.3 2004.0,1447.9 2004.1,1438.5 2004.2,1426.7 2004.2,1412.1 2004.3,1398.5 2004.4,1390.0 2004.7,1373.5 2005.0,1362.8 2005.3,1359.0 2005.7,1363.9 2006.1,1375.6 2006.5,1390.0 2006.7,1398.9 2007.0,1409.8 2007.2,1422.9 2007.4,1438.5 2007.5,1446.8 2007.6,1456.3 2007.7,1467.6 2007.8,1479.0 2007.9,1490.3 2008.0,1501.6 2008.1,1511.4 2008.2,1519.4 2008.4,1527.4 2008.6,1533.7 2008.9,1545.8 2009.1,1557.8 2009.4,1569.9 2009.6,1577.7 2009.8,1584.2 2010.4,1598.3 2011.0,1609.2 2011.6,1617.7 2012.2,1624.6 2012.9,1631.1 2013.5,1636.9 2014.2,1641.8 2014.8,1645.8 2015.5,1648.9 2016.1,1651.2 2016.7,1653.3 2017.3,1654.8 2017.9,1655.4 2018.4,1643.3 2018.9,1633.0 2019.3,1622.8 2019.8,1612.5 2020.3,1600.4 2020.8,1587.6 2021.4,1575.3 2021.9,1568.0 2022.6,1564.1 2023.3,1561.1 2024.0,1559.3 2024.7,1558.6 2025.4,1560.7 2026.2,1566.2 2026.9,1574.0 2027.7,1583.1 2028.4,1592.3 2029.2,1605.7 2030.0,1621.6 2030.8,1632.7 2031.5,1637.4 2032.1,1641.3 2032.8,1644.5 2033.4,1647.0 2034.1,1648.9 2034.9,1650.8 2035.7,1652.6 2036.5,1654.1 2037.3,1655.0 2038.1,1655.4 2038.7,1654.3 2039.4,1651.6 2040.0,1648.5 2040.7,1645.8 2041.3,1644.7 2041.9,1646.5 2042.5,1650.7 2043.2,1655.4 2043.8,1658.6 2044.4,1660.4 2045.0,1661.9 2045.6,1663.1 2046.2,1663.5 2046.8,1657.1 2047.4,1642.5 2048.0,1626.6 2048.6,1616.5 2049.2,1611.5 2049.8,1607.4 2050.5,1604.5 2051.1,1603.4 2051.7,1604.1 2052.4,1606.1 2053.0,1609.0 2053.7,1612.6 2054.3,1616.5 2055.1,1625.6 2055.9,1639.2 2056.7,1651.6 2057.5,1657.0 2057.9,1644.5 2058.2,1634.0 2058.4,1623.4 2058.7,1612.9 2059.1,1600.4 2059.2,1593.8 2059.3,1586.1 2059.5,1574.0 2059.6,1562.0 2059.8,1549.9 2059.9,1542.8 2060.0,1535.6 2060.1,1528.6 2060.2,1521.4 2060.3,1509.3 2060.5,1497.2 2060.6,1485.1 2060.7,1477.0 2060.8,1470.9 2061.5,1451.7 2062.2,1440.5 2062.9,1436.8 2063.2,1442.3 2063.5,1451.4 2064.0,1463.8 2064.5,1476.3 2065.0,1488.7 2065.3,1494.9 2065.6,1503.3 2065.7,1512.3 2065.9,1523.6 2066.1,1536.5 2066.2,1549.4 2066.4,1562.3 2066.6,1575.2 2066.8,1587.9 2066.9,1595.5 2067.4,1591.0 2067.9,1583.5 2068.6,1575.9 2069.2,1568.3 2069.9,1560.7 2070.6,1553.1 2071.1,1545.6 2071.6,1541.1 2072.3,1544.0 2073.1,1551.4 2073.8,1561.7 2074.6,1573.2 2075.3,1584.2 2075.9,1594.1 2076.6,1605.3 2077.2,1616.1 2077.8,1624.6 2078.6,1633.5 2079.4,1640.9 2080.2,1644.0 2080.8,1643.8 2081.5,1643.4 2082.1,1643.0 2082.8,1642.6 2083.4,1642.4 2084.1,1643.9 2084.7,1647.5 2085.4,1651.9 2086.0,1655.5 2086.7,1657.0 2087.3,1655.0 2088.0,1649.4 2088.6,1640.7 2089.3,1629.5 2089.9,1616.5 2090.2,1606.6 2090.4,1593.4 2090.7,1584.2 2091.4,1572.7 2092.1,1563.4 2092.9,1556.5 2093.6,1552.3 2094.3,1550.8 2095.1,1552.2 2095.8,1555.9 2096.6,1561.5 2097.3,1568.4 2098.1,1576.1 2098.8,1584.2 2099.6,1596.8 2100.4,1612.6 2101.2,1624.6 2101.8,1630.5 2102.5,1635.7 2103.1,1640.1 2103.8,1643.4 2104.4,1645.7 2105.1,1647.4 2105.8,1648.9 2106.4,1650.2 2107.1,1651.2 2107.8,1651.9 2108.5,1652.1 2109.3,1649.8 2110.1,1643.9 2110.9,1635.5 2111.7,1626.0 2112.5,1616.5 2113.1,1608.3 2113.6,1599.0 2114.2,1592.3 2114.9,1587.0 2115.6,1582.6 2116.4,1579.5 2117.1,1578.3 2117.8,1579.7 2118.5,1583.5 2119.2,1588.7 2119.9,1594.7 2120.6,1600.4 2121.3,1606.5 2121.9,1613.9 2122.6,1621.5 2123.2,1628.1 2123.9,1632.7 2124.7,1636.3 2125.5,1639.5 2126.3,1642.2 2127.1,1644.5 2127.9,1646.2 2128.7,1647.3 2129.4,1648.0 2130.1,1648.4 2130.8,1648.8 2131.5,1649.1 2132.2,1649.5 2132.9,1649.9 2133.6,1650.5 2134.4,1651.7 2135.2,1653.3 2136.0,1655.1 2136.8,1656.4 2137.6,1657.0 2138.3,1655.1 2138.9,1649.7 2139.6,1641.2 2140.2,1630.0 2140.9,1616.5 2141.1,1610.2 2141.3,1602.3 2141.6,1590.2 2141.8,1578.1 2142.1,1566.0 2142.3,1558.7 2142.5,1551.8 2142.9,1537.4 2143.3,1523.7 2143.7,1511.9 2144.1,1503.3 2144.6,1497.1 2145.1,1492.0 2145.7,1484.8 2146.3,1477.5 2146.9,1470.3 2147.5,1463.1 2148.0,1456.0 2148.5,1451.8 2149.0,1456.0 2149.5,1463.1 2150.1,1470.3 2150.8,1477.5 2151.4,1484.8 2152.0,1492.0 2152.5,1497.1 2153.0,1503.3 2153.4,1512.6 2153.8,1525.8 2154.2,1539.9 2154.6,1551.8 2155.2,1565.9 2155.8,1578.7 2156.4,1590.2 2157.0,1600.4 2157.6,1610.0 2158.2,1618.7 2158.9,1626.4 2159.5,1632.7 2160.1,1638.2 2160.7,1643.5 2161.3,1647.4 2161.9,1648.9 2162.7,1645.7 2163.5,1637.2 2164.3,1625.6 2165.1,1612.6 2165.9,1600.4 2166.5,1590.1 2167.2,1578.2 2167.8,1567.3 2168.4,1559.9 2169.1,1554.3 2169.9,1549.3 2170.6,1545.3 2171.4,1542.6 2172.1,1541.6 2172.9,1541.7 2173.6,1542.0 2174.4,1542.5 2175.1,1543.3 2175.9,1544.2 2176.7,1545.3 2177.4,1546.6 2178.2,1548.2 2178.9,1549.9 2179.7,1551.8 2180.3,1555.1 2181.0,1561.0 2181.6,1568.5 2182.3,1576.6 2182.9,1584.2 2183.6,1592.2 2184.2,1601.1 2184.9,1610.0 2185.5,1618.1 2186.2,1624.6 2187.0,1631.1 2187.8,1637.1 2188.6,1642.3 2189.4,1646.4 2190.2,1648.9 2190.9,1650.3 2191.6,1651.5 2192.3,1652.6 2193.1,1653.6 2193.8,1654.3 2194.5,1654.9 2195.2,1655.3 2195.9,1655.4 2196.7,1652.2 2197.5,1644.4 2198.3,1634.2 2199.1,1624.1 2199.9,1616.5 2200.6,1611.5 2201.3,1606.3 2202.0,1601.4 2202.8,1596.8 2203.5,1592.8 2204.2,1589.7 2204.9,1587.6 2205.6,1586.9 2206.3,1588.3 2207.0,1591.9 2207.7,1597.1 2208.3,1603.2 2209.0,1609.4 2209.7,1615.1 2210.4,1619.5 2211.1,1623.2 2211.8,1626.7 2212.6,1630.0 2213.3,1633.0 2214.0,1635.7 2214.7,1637.9 2215.4,1639.8 2216.1,1641.5 2216.8,1643.1 2217.5,1644.6 2218.2,1645.8 2218.9,1646.9 2219.6,1647.8 2220.4,1648.7 2221.2,1649.5 2222.0,1650.3 2222.8,1651.0 2223.6,1651.5 2224.4,1651.9 2225.2,1652.0 2225.9,1651.3 2226.6,1649.3 2227.3,1646.3 2228.0,1642.8 2228.7,1639.0 2229.4,1635.2 2230.1,1631.8 2230.8,1628.0 2231.6,1623.5 2232.3,1618.7 2233.1,1614.2 2233.8,1610.4 2234.6,1607.8 2235.3,1606.8 2236.1,1608.7 2236.9,1613.4 2237.7,1619.7 2238.5,1626.3 2239.3,1631.8 2240.1,1636.5 2240.8,1641.4 2241.6,1645.4 2242.3,1647.8 2243.0,1648.8 2243.7,1649.8 2244.4,1650.5 2245.1,1651.2 2245.8,1651.6 2246.5,1651.9 2247.2,1652.0 2248.0,1652.0 2248.7,1651.9 2249.5,1651.7 2250.2,1651.4 2251.0,1651.2 2251.7,1650.8 2252.5,1650.5 2253.2,1650.0 2254.0,1649.6 2254.7,1649.1 2255.4,1648.4 2256.1,1647.6 2256.8,1646.5 2257.5,1645.1 2258.2,1643.5 2258.9,1641.6 2259.5,1638.6 2260.2,1633.6 2260.8,1627.0 2261.4,1619.5 2262.0,1609.3 2262.6,1596.0 2263.2,1582.7 2263.8,1569.5 2264.4,1556.3 2265.0,1545.9 2265.6,1537.1 2266.3,1529.7 2266.9,1526.6 2267.7,1529.1 2268.4,1535.4 2269.2,1543.6 2270.0,1551.8 2270.7,1558.1 2271.5,1560.6 2272.0,1554.9 2272.4,1545.5 2273.0,1535.9 2273.7,1526.2 2274.3,1516.6 2274.9,1507.0 2275.3,1497.6 2275.8,1491.9 2276.3,1496.4 2276.8,1503.8 2277.5,1511.3 2278.1,1518.9 2278.7,1526.5 2279.4,1534.0 2279.9,1539.8 2280.4,1545.9 2281.0,1554.5 2281.6,1564.1 2282.2,1573.8 2282.8,1582.7 2283.4,1591.1 2284.1,1599.0 2284.7,1606.5 2285.3,1613.4 2286.1,1622.0 2286.9,1629.9 2287.7,1635.5 2288.5,1639.1 2289.2,1642.2 2290.0,1644.4 2290.8,1645.3 2291.6,1645.4 2292.3,1645.5 2293.1,1645.6 2293.9,1645.6 2294.6,1645.7 2295.4,1645.7 2296.1,1645.8 2296.9,1645.9 2297.6,1646.2 2298.3,1646.9 2299.0,1647.7 2299.8,1648.7 2300.5,1649.7 2301.2,1650.6 2301.9,1651.4 2302.7,1652.2 2303.4,1653.0 2304.2,1653.8 2304.9,1654.6 2305.7,1655.2 2306.5,1655.8 2307.2,1656.2 2308.0,1656.3 2308.8,1654.1 2309.6,1649.2 2310.3,1643.8 2311.1,1640.4 2311.8,1639.0 2312.5,1638.0 2313.3,1637.1 2314.0,1636.3 2314.7,1635.5 2315.5,1634.5 2316.2,1633.6 2317.0,1632.7 2317.8,1631.8"/>
<polyline stroke="#F83C3C" points="201.1,1135.0 201.8,1136.8 202.5,1138.7 203.2,1140.6 203.9,1142.2 204.6,1143.6 205.3,1144.6 206.0,1144.9 208.1,1144.9 210.2,1144.7 212.3,1144.6 214.4,1144.4 216.5,1144.1 218.6,1143.9 220.7,1143.7 222.8,1143.4 224.9,1143.2 227.0,1143.1 230.7,1142.9 234.4,1142.7 238.1,1142.5 241.8,1142.3 245.5,1142.1 249.2,1142.0 252.9,1141.9 256.6,1141.8 260.3,1141.7 264.0,1141.7 267.5,1141.7 270.9,1141.8 274.4,1141.9 277.8,1142.0 281.3,1142.2 284.8,1142.3 288.2,1142.4 291.7,1142.5 295.1,1142.6 298.6,1142.6 299.6,1142.6 300.6,1142.6 301.5,1142.5 302.5,1142.5 303.5,1142.4 304.5,1142.4 305.5,1142.3 306.4,1142.2 307.4,1142.2 308.4,1142.1 309.9,1141.9 311.4,1141.7 312.8,1141.3 314.3,1140.9 315.8,1140.5 317.3,1140.1 318.8,1139.8 320.2,1139.5 321.7,1139.3 323.2,1139.2 324.2,1139.2 325.2,1139.2 326.2,1139.2 327.2,1139.2 328.1,1139.2 329.1,1139.2 330.1,1139.2 331.1,1139.2 332.1,1139.2 333.1,1139.2 334.6,1139.3 336.1,1139.6 337.5,1140.0 339.0,1140.6 340.5,1141.2 342.0,1141.7 343.5,1142.3 344.9,1142.7 346.4,1143.0 347.9,1143.1 349.1,1143.1 350.4,1143.1 351.6,1143.1 352.8,1143.1 354.0,1143.1 355.3,1143.1 356.5,1143.1 357.7,1143.1 359.0,1143.1 360.2,1143.1 361.6,1143.0 362.9,1142.9 364.3,1142.6 365.6,1142.3 367.0,1141.9 368.4,1141.5 369.7,1141.2 371.1,1140.9 372.4,1140.8 373.8,1140.7 375.9,1140.7 378.0,1140.8 380.1,1140.8 382.2,1140.9 384.3,1141.0 386.4,1141.0 388.5,1141.1 390.6,1141.1 392.7,1141.2 394.8,1141.2 396.5,1141.2 398.3,1141.1 400.0,1141.1 401.7,1141.0 403.5,1141.0 405.2,1140.9 406.9,1140.8 408.6,1140.8 410.4,1140.7 412.1,1140.7 413.6,1140.8 415.1,1140.9 416.5,1141.1 418.0,1141.4 419.5,1141.7 421.0,1142.0 422.5,1142.3 423.9,1142.6 425.4,1142.9 426.9,1143.1 428.9,1143.3 430.8,1143.6 432.8,1143.8 434.8,1144.1 436.8,1144.3 438.7,1144.5 440.7,1144.7 442.7,1144.8 444.6,1144.9 446.6,1144.9 447.4,1144.9 448.2,1144.8 448.9,1144.7 449.7,1144.5 450.5,1144.3 451.2,1144.1 452.0,1143.9 452.8,1143.6 453.7,1143.1 454.5,1142.3 455.4,1141.2 456.2,1139.9 457.1,1138.5 458.0,1137.0 458.8,1135.4 459.7,1133.9 460.5,1132.5 461.4,1131.3 462.2,1130.2 462.9,1128.9 463.7,1127.7 464.5,1126.5 465.3,1125.5 466.0,1124.8 466.8,1124.6 467.5,1124.8 468.2,1125.4 468.9,1126.3 469.6,1127.4 470.4,1128.7 471.1,1130.0 471.8,1131.3 472.5,1132.5 473.2,1133.8 473.9,1135.3 474.6,1137.0 475.3,1138.6 476.0,1139.9 476.7,1140.9 477.4,1141.2 478.2,1140.8 478.9,1139.8 479.7,1138.4 480.5,1136.8 481.3,1135.3 482.1,1133.9 482.8,1132.9 483.6,1132.5 484.3,1132.9 485.0,1134.0 485.7,1135.4 486.4,1137.0 487.1,1138.4 487.8,1139.5 488.5,1139.9 489.2,1139.7 490.0,1139.1 490.7,1138.2 491.5,1137.0 492.2,1135.9 492.9,1134.7 493.7,1133.5 494.4,1132.6 495.2,1132.0 495.9,1131.8 496.6,1132.0 497.4,1132.5 498.1,1133.2 498.9,1134.2 499.6,1135.2 500.3,1136.3 501.1,1137.4 501.8,1138.4 502.6,1139.3 503.3,1139.9 504.1,1140.4 504.8,1140.9 505.6,1141.4 506.3,1141.9 507.1,1142.4 507.8,1142.8 508.6,1143.1 509.3,1143.4 510.1,1143.5 510.8,1143.6 512.0,1143.5 513.3,1143.2 514.5,1142.8 515.7,1142.3 517.0,1141.7 518.2,1141.1 519.4,1140.5 520.6,1140.0 521.9,1139.5 523.1,1139.2 524.3,1139.0 525.6,1138.7 526.8,1138.5 528.0,1138.3 529.2,1138.2 530.5,1138.0 531.7,1137.8 532.9,1137.7 534.2,1137.6 535.4,1137.5 537.1,1137.4 538.9,1137.3 540.6,1137.2 542.3,1137.2 544.0,1137.1 545.8,1137.1 547.5,1137.0 549.2,1136.9 551.0,1136.8 552.7,1136.7 553.7,1136.6 554.7,1136.4 555.7,1136.1 556.7,1135.8 557.7,1135.5 558.6,1135.2 559.6,1134.9 560.6,1134.7 561.6,1134.6 562.6,1134.5 563.7,1134.5 564.8,1134.5 565.9,1134.5 567.0,1134.6 568.2,1134.6 569.3,1134.7 570.4,1134.8 571.5,1134.8 572.6,1134.9 573.7,1135.0 574.8,1135.2 575.9,1135.8 577.0,1136.5 578.1,1137.3 579.2,1138.2 580.4,1139.1 581.5,1139.9 582.6,1140.6 583.7,1141.0 584.8,1141.2 585.8,1141.2 586.8,1141.1 587.7,1141.1 588.7,1141.0 589.7,1140.8 590.7,1140.7 591.7,1140.5 592.6,1140.3 593.6,1140.1 594.6,1139.9 595.6,1139.6 596.6,1139.0 597.6,1138.3 598.6,1137.5 599.5,1136.6 600.5,1135.7 601.5,1134.7 602.5,1133.9 603.5,1133.1 604.5,1132.5 605.5,1132.0 606.5,1131.5 607.5,1131.1 608.5,1130.7 609.5,1130.3 610.4,1129.9 611.4,1129.6 612.4,1129.2 613.4,1128.8 614.4,1128.3 615.5,1127.7 616.6,1127.0 617.7,1126.2 618.8,1125.5 620.0,1124.7 621.1,1123.9 622.2,1123.3 623.3,1122.8 624.4,1122.4 625.5,1122.2 626.4,1122.2 627.2,1122.1 628.1,1122.1 628.9,1122.1 629.8,1122.0 630.7,1122.0 631.5,1122.0 632.4,1122.0 633.2,1121.9 634.1,1121.9 635.3,1121.8 636.6,1121.7 637.8,1121.5 639.1,1121.4 640.3,1121.2 641.5,1121.1 642.8,1120.9 644.0,1120.8 645.3,1120.7 646.5,1120.7 647.7,1120.7 649.0,1120.8 650.2,1121.0 651.4,1121.2 652.6,1121.4 653.9,1121.6 655.1,1121.8 656.3,1122.0 657.6,1122.1 658.8,1122.2 660.3,1122.3 661.8,1122.3 663.2,1122.4 664.7,1122.4 666.2,1122.4 667.7,1122.5 669.2,1122.5 670.6,1122.6 672.1,1122.6 673.6,1122.7 674.8,1122.9 676.1,1123.3 677.3,1123.8 678.5,1124.4 679.8,1125.1 681.0,1125.9 682.2,1126.7 683.4,1127.4 684.7,1128.2 685.9,1128.8 686.9,1129.3 687.9,1129.7 688.9,1130.1 689.9,1130.5 690.8,1131.0 691.8,1131.4 692.8,1131.8 693.8,1132.3 694.8,1132.8 695.8,1133.3 696.5,1133.7 697.2,1134.2 698.0,1134.7 698.7,1135.3 699.4,1135.8 700.1,1136.3 700.9,1136.8 701.6,1137.2 702.3,1137.5 703.3,1137.9 704.3,1138.2 705.3,1138.5 706.3,1138.9 707.2,1139.2 708.2,1139.4 709.2,1139.6 710.2,1139.8 711.2,1139.9 712.2,1139.9 713.4,1139.8 714.7,1139.4 715.9,1138.8 717.1,1138.2 718.4,1137.5 719.6,1136.7 720.8,1136.1 722.0,1135.5 723.3,1135.1 724.5,1135.0 725.2,1135.0 726.0,1135.0 726.7,1135.0 727.5,1135.0 728.2,1135.0 728.9,1135.0 729.7,1135.0 730.4,1135.0 731.2,1135.0 731.9,1135.0 732.9,1135.1 733.9,1135.4 734.9,1135.9 735.9,1136.4 736.8,1137.1 737.8,1137.7 738.8,1138.3 739.8,1138.8 740.8,1139.2 741.8,1139.4 742.5,1139.5 743.3,1139.6 744.0,1139.6 744.8,1139.7 745.5,1139.8 746.2,1139.8 747.0,1139.8 747.7,1139.9 748.5,1139.9 749.2,1139.9 750.0,1139.8 750.8,1139.6 751.5,1139.2 752.3,1138.7 753.1,1138.2 753.9,1137.6 754.6,1136.9 755.4,1136.2 756.2,1135.3 757.0,1133.9 757.7,1132.3 758.5,1130.5 759.3,1128.8 760.0,1127.2 760.8,1125.9 761.6,1125.1 762.3,1124.6 763.0,1124.1 763.7,1123.6 764.4,1123.3 765.1,1123.0 765.8,1122.8 766.5,1122.7 767.2,1122.7 767.9,1122.8 768.6,1122.9 769.3,1123.0 770.0,1123.1 770.7,1123.3 771.4,1123.4 772.1,1123.6 772.9,1123.9 773.6,1124.2 774.4,1124.6 775.1,1125.1 775.8,1125.5 776.6,1125.9 777.3,1126.2 778.1,1126.6 778.8,1126.8 780.3,1127.1 781.8,1127.4 783.2,1127.7 784.7,1127.9 786.2,1128.1 787.7,1128.3 789.2,1128.5 790.6,1128.7 792.1,1129.0 793.6,1129.3 794.6,1129.6 795.6,1129.9 796.6,1130.3 797.6,1130.7 798.5,1131.1 799.5,1131.6 800.5,1132.0 801.5,1132.5 802.5,1132.9 803.5,1133.3 804.5,1133.7 805.5,1134.1 806.5,1134.4 807.5,1134.8 808.5,1135.2 809.4,1135.6 810.4,1135.9 811.4,1136.2 812.4,1136.5 813.4,1136.7 814.4,1136.9 815.4,1137.1 816.3,1137.3 817.3,1137.5 818.3,1137.7 819.3,1137.9 820.3,1138.0 821.2,1138.1 822.2,1138.2 823.2,1138.2 824.1,1138.2 824.9,1138.2 825.8,1138.2 826.7,1138.2 827.5,1138.2 828.4,1138.2 829.3,1138.2 830.2,1138.2 831.0,1138.2 831.9,1138.2 832.7,1138.0 833.4,1137.5 834.2,1136.8 835.0,1135.9 835.7,1134.9 836.5,1134.0 837.2,1133.1 838.0,1132.5 839.0,1131.8 840.0,1131.2 841.0,1130.6 842.0,1130.0 843.0,1129.4 843.9,1128.9 844.9,1128.4 845.9,1128.1 846.9,1127.8 847.9,1127.6 848.9,1127.5 849.9,1127.3 850.9,1127.2 851.9,1127.1 852.8,1127.0 853.8,1126.9 854.8,1126.9 855.8,1126.8 856.8,1126.8 857.8,1126.8 858.5,1126.8 859.2,1127.0 859.9,1127.1 860.6,1127.3 861.3,1127.4 862.0,1127.6 862.7,1127.6 863.8,1127.5 864.9,1127.2 866.0,1126.8 867.1,1126.3 868.2,1125.8 869.4,1125.2 870.5,1124.7 871.6,1124.3 872.7,1124.0 873.8,1123.9 874.5,1123.9 875.3,1124.1 876.0,1124.3 876.8,1124.6 877.5,1124.9 878.2,1125.3 879.0,1125.7 879.7,1126.0 880.5,1126.4 881.2,1126.8 882.3,1127.4 883.4,1128.0 884.5,1128.7 885.6,1129.5 886.8,1130.3 887.9,1131.1 889.0,1131.8 890.1,1132.5 891.2,1133.2 892.3,1133.8 893.5,1134.4 894.8,1134.9 896.0,1135.5 897.3,1135.9 898.5,1136.4 899.7,1136.9 901.0,1137.3 902.2,1137.8 903.5,1138.2 904.7,1138.7 905.9,1139.2 907.2,1139.7 908.4,1140.3 909.6,1140.9 910.9,1141.5 912.1,1142.0 913.3,1142.4 914.5,1142.8 915.8,1143.0 917.0,1143.1 918.0,1143.1 919.0,1143.0 920.0,1142.9 921.0,1142.9 922.0,1142.8 922.9,1142.6 923.9,1142.6 924.9,1142.5 925.9,1142.4 926.9,1142.4 929.1,1142.4 931.3,1142.5 933.6,1142.7 935.8,1142.8 938.0,1143.0 940.2,1143.2 942.4,1143.3 944.7,1143.5 946.9,1143.6 949.1,1143.6 952.8,1143.6 956.5,1143.5 960.2,1143.4 963.9,1143.2 967.6,1143.1 971.3,1143.0 975.0,1142.8 978.7,1142.7 982.4,1142.6 986.1,1142.6 988.6,1142.6 991.0,1142.8 993.5,1142.9 996.0,1143.1 998.5,1143.3 1000.9,1143.6 1003.4,1143.8 1005.9,1143.9 1008.3,1144.1 1010.8,1144.1 1012.8,1144.1 1014.7,1144.1 1016.7,1144.0 1018.7,1144.0 1020.6,1144.0 1022.6,1143.9 1024.6,1143.8 1026.6,1143.8 1028.5,1143.7 1030.5,1143.6 1032.2,1143.5 1034.0,1143.3 1035.7,1143.0 1037.4,1142.6 1039.2,1142.3 1040.9,1142.0 1042.6,1141.7 1044.3,1141.4 1046.1,1141.3 1047.8,1141.2 1049.8,1141.2 1051.7,1141.3 1053.7,1141.5 1055.7,1141.6 1057.7,1141.8 1059.6,1142.0 1061.6,1142.1 1063.6,1142.3 1065.5,1142.4 1067.5,1142.4 1068.7,1142.3 1070.0,1142.2 1071.2,1141.9 1072.4,1141.6 1073.7,1141.3 1074.9,1141.0 1076.1,1140.6 1077.3,1140.3 1078.6,1140.1 1079.8,1139.9 1081.5,1139.7 1083.3,1139.5 1085.0,1139.4 1086.7,1139.2 1088.4,1139.1 1090.2,1138.9 1091.9,1138.8 1093.6,1138.8 1095.4,1138.7 1097.1,1138.7 1098.3,1138.7 1099.6,1138.7 1100.8,1138.7 1102.0,1138.7 1103.2,1138.7 1104.5,1138.7 1105.7,1138.7 1106.9,1138.7 1108.2,1138.7 1109.4,1138.7 1110.6,1138.8 1111.9,1139.0 1113.1,1139.3 1114.4,1139.8 1115.6,1140.2 1116.8,1140.6 1118.1,1141.1 1119.3,1141.4 1120.6,1141.6 1121.8,1141.7 1123.0,1141.7 1124.3,1141.6 1125.5,1141.5 1126.7,1141.4 1127.9,1141.3 1129.2,1141.1 1130.4,1141.0 1131.6,1140.9 1132.9,1140.8 1134.1,1140.7 1136.6,1140.6 1139.0,1140.5 1141.5,1140.4 1144.0,1140.4 1146.4,1140.3 1148.9,1140.2 1151.4,1140.2 1153.9,1140.1 1156.3,1140.0 1158.8,1139.9 1160.3,1139.8 1161.8,1139.7 1163.2,1139.6 1164.7,1139.5 1166.2,1139.4 1167.7,1139.3 1169.2,1139.2 1170.6,1139.0 1172.1,1138.9 1173.6,1138.7 1174.3,1138.6 1175.0,1138.5 1175.7,1138.4 1176.4,1138.3 1177.2,1138.2 1177.9,1138.0 1178.6,1137.9 1179.3,1137.8 1180.0,1137.7 1180.8,1137.6 1181.6,1137.5 1182.4,1137.4 1183.2,1137.2 1183.9,1137.1 1184.7,1137.1 1185.5,1137.0 1186.3,1137.0 1187.0,1137.1 1187.8,1137.4 1188.5,1137.9 1189.3,1138.4 1190.0,1139.0 1190.8,1139.7 1191.5,1140.2 1192.3,1140.7 1193.0,1141.0 1193.8,1141.1 1194.6,1140.9 1195.3,1140.4 1196.1,1139.7 1196.8,1139.2 1197.6,1139.0 1198.4,1139.1 1199.1,1139.3 1199.9,1139.6 1200.6,1140.0 1201.4,1140.4 1202.2,1140.8 1202.9,1141.2 1203.7,1141.5 1204.4,1141.7 1205.2,1141.8 1206.0,1141.8 1206.7,1141.7 1207.5,1141.5 1208.2,1141.3 1209.0,1141.2 1209.7,1141.0 1210.5,1140.8 1211.2,1140.6 1212.0,1140.5 1212.7,1140.5 1213.5,1140.6 1214.2,1140.9 1215.0,1141.3 1215.7,1141.8 1216.5,1142.4 1217.3,1142.9 1218.0,1143.4 1218.8,1143.9 1219.5,1144.2 1220.3,1144.3 1221.2,1144.3 1222.1,1144.4 1222.9,1144.4 1223.8,1144.4 1224.7,1144.4 1225.6,1144.4 1226.5,1144.4 1227.3,1144.4 1228.2,1144.5 1229.1,1144.5 1229.9,1144.6 1230.6,1144.9 1231.4,1145.3 1232.2,1145.8 1233.0,1146.3 1233.8,1146.7 1234.5,1147.1 1235.3,1147.4 1236.1,1147.6 1236.8,1147.8 1237.6,1147.9 1238.3,1148.1 1239.1,1148.1 1239.8,1147.9 1240.6,1147.2 1241.3,1146.3 1242.0,1145.3 1242.7,1144.3 1243.5,1143.4 1244.2,1142.8 1245.0,1142.3 1245.8,1141.9 1246.5,1141.5 1247.3,1141.1 1248.1,1140.8 1248.9,1140.5 1249.6,1140.4 1250.4,1140.3 1251.2,1140.4 1252.0,1140.7 1252.8,1141.2 1253.6,1141.7 1254.3,1142.3 1255.1,1142.8 1255.9,1143.3 1256.7,1143.6 1257.8,1143.9 1259.0,1144.2 1260.1,1144.5 1261.3,1144.7 1262.4,1144.9 1263.5,1145.1 1264.7,1145.3 1265.8,1145.4 1267.0,1145.5 1268.1,1145.5 1269.3,1145.5 1270.6,1145.4 1271.8,1145.2 1273.1,1145.1 1274.3,1144.9 1275.6,1144.7 1276.8,1144.6 1278.1,1144.4 1279.3,1144.3 1280.6,1144.3 1281.5,1144.3 1282.4,1144.4 1283.2,1144.5 1284.1,1144.7 1285.0,1144.8 1285.9,1144.9 1286.8,1145.1 1287.6,1145.2 1288.5,1145.3 1289.4,1145.3 1291.0,1145.3 1292.7,1145.2 1294.3,1145.1 1296.0,1145.0 1297.6,1144.9 1299.2,1144.8 1300.9,1144.6 1302.5,1144.5 1304.2,1144.4 1305.8,1144.3 1307.7,1144.2 1309.6,1144.2 1311.5,1144.1 1313.4,1144.1 1315.2,1144.0 1317.1,1144.0 1319.0,1143.9 1320.9,1143.8 1322.8,1143.7 1324.7,1143.6 1325.5,1143.4 1326.2,1143.0 1327.0,1142.5 1327.7,1141.8 1328.5,1141.0 1329.2,1140.2 1330.0,1139.4 1330.7,1138.6 1331.5,1138.0 1332.2,1137.4 1332.9,1137.0 1333.6,1136.5 1334.3,1136.1 1335.1,1135.7 1335.8,1135.4 1336.5,1135.0 1337.2,1134.8 1338.1,1134.6 1339.0,1134.4 1339.8,1134.2 1340.7,1134.1 1341.6,1133.9 1342.5,1133.8 1343.4,1133.6 1344.2,1133.5 1345.1,1133.3 1346.0,1133.0 1346.7,1132.7 1347.5,1132.4 1348.2,1132.0 1348.9,1131.5 1349.6,1131.0 1350.4,1130.4 1351.1,1129.8 1351.8,1128.9 1352.5,1127.7 1353.2,1126.2 1354.0,1124.8 1354.7,1123.5 1355.4,1122.6 1356.1,1122.3 1356.8,1122.3 1357.5,1122.4 1358.2,1122.5 1359.0,1122.7 1359.7,1122.8 1360.4,1122.9 1361.1,1122.9 1361.9,1122.8 1362.6,1122.6 1363.4,1122.3 1364.1,1122.0 1364.9,1121.6 1365.7,1121.2 1366.4,1120.8 1367.2,1120.5 1367.9,1120.2 1368.7,1120.1 1369.7,1120.0 1370.7,1120.0 1371.7,1119.9 1372.7,1119.9 1373.7,1119.8 1374.7,1119.8 1375.7,1119.7 1376.7,1119.7 1377.7,1119.7 1378.7,1119.7 1379.4,1119.9 1380.2,1120.3 1380.9,1121.0 1381.6,1121.8 1382.3,1122.7 1383.1,1123.5 1383.8,1124.2 1384.6,1124.8 1385.4,1125.4 1386.2,1126.0 1386.9,1126.6 1387.7,1127.2 1388.5,1127.8 1389.3,1128.5 1390.1,1129.2 1390.8,1130.0 1391.5,1130.9 1392.2,1131.9 1393.0,1132.8 1393.7,1133.8 1394.4,1134.7 1395.1,1135.5 1395.9,1136.3 1396.6,1137.1 1397.4,1137.9 1398.1,1138.4 1398.9,1138.6 1399.7,1138.5 1400.5,1138.2 1401.3,1137.7 1402.1,1137.1 1402.8,1136.3 1403.6,1135.3 1404.4,1134.2 1405.2,1133.0 1405.8,1131.5 1406.5,1129.3 1407.1,1126.3 1407.7,1122.9 1408.3,1117.8 1409.0,1110.9 1409.6,1104.0 1410.2,1097.9 1410.8,1091.7 1411.4,1085.2 1412.1,1077.6 1412.7,1069.9 1413.4,1062.1 1414.1,1054.3 1414.7,1046.5 1415.4,1038.7 1416.1,1030.9 1416.7,1023.3 1417.4,1015.6 1418.0,1008.5 1418.6,1001.4 1419.4,992.3 1420.2,983.2 1421.0,974.2 1421.8,965.1 1422.4,957.8 1423.0,950.9 1423.7,944.0 1424.4,937.2 1425.1,930.8 1425.8,924.8 1426.5,919.3 1427.2,914.5 1427.9,910.5 1428.6,906.6 1429.4,902.9 1430.1,899.6 1430.9,897.4 1431.6,896.5 1432.3,897.8 1433.1,901.5 1433.8,906.8 1434.5,913.1 1435.3,919.9 1436.0,926.6 1436.6,932.9 1437.2,939.8 1438.0,948.2 1438.8,956.6 1439.6,964.9 1440.4,973.3 1441.0,980.1 1441.6,986.5 1442.3,993.3 1443.0,999.8 1443.7,1006.1 1444.4,1012.2 1445.2,1018.1 1445.9,1023.8 1446.6,1029.4 1447.3,1035.0 1448.0,1040.5 1448.7,1046.1 1449.4,1051.6 1450.2,1056.9 1450.9,1062.1 1451.6,1066.9 1452.3,1071.4 1453.0,1075.5 1453.8,1079.7 1454.6,1083.7 1455.4,1087.4 1456.2,1090.8 1457.0,1093.9 1457.8,1096.5 1458.5,1098.5 1459.2,1100.4 1460.0,1102.0 1460.7,1103.5 1461.4,1105.0 1462.1,1106.4 1462.9,1107.9 1463.6,1109.4 1464.3,1111.1 1465.0,1113.0 1465.7,1115.0 1466.5,1117.2 1467.2,1119.3 1467.9,1121.5 1468.6,1123.6 1469.4,1125.6 1470.1,1127.4 1470.8,1128.9 1471.5,1130.3 1472.2,1131.8 1472.9,1133.3 1473.6,1134.7 1474.4,1135.9 1475.1,1137.0 1475.8,1137.9 1476.5,1138.4 1477.2,1138.6 1477.9,1137.7 1478.6,1135.0 1479.3,1130.7 1480.0,1124.6 1480.7,1116.8 1481.4,1107.5 1482.1,1096.5 1482.5,1084.0 1482.8,1073.5 1483.0,1062.9 1483.3,1052.4 1483.7,1039.9 1484.5,1035.0 1485.3,1031.8 1485.9,1026.2 1486.5,1019.0 1487.2,1012.1 1487.8,1007.5 1488.4,1004.8 1489.1,1002.4 1489.7,1000.5 1490.4,999.3 1491.0,998.8 1491.8,1000.9 1492.6,1006.3 1493.4,1014.0 1494.2,1022.9 1495.0,1031.8 1495.7,1039.9 1496.3,1049.5 1497.0,1060.0 1497.6,1070.5 1498.3,1080.4 1498.9,1089.5 1499.5,1099.0 1500.1,1107.3 1500.7,1112.7 1501.4,1116.3 1502.1,1119.3 1502.8,1121.8 1503.5,1123.9 1504.2,1125.7 1504.9,1127.3 1505.6,1128.9 1506.5,1130.9 1507.4,1133.0 1508.2,1135.0 1509.1,1136.9 1510.0,1138.7 1510.9,1140.3 1511.8,1141.6 1512.6,1142.6 1513.5,1143.3 1514.4,1143.5 1515.1,1142.4 1515.8,1139.5 1516.5,1135.2 1517.2,1129.9 1517.9,1124.1 1518.6,1118.2 1519.3,1112.7 1519.9,1107.1 1520.5,1100.4 1521.1,1094.7 1521.7,1091.7 1522.4,1090.7 1523.1,1090.1 1523.9,1089.7 1524.6,1089.4 1525.3,1089.2 1526.0,1088.9 1526.8,1088.5 1527.5,1087.8 1528.2,1086.8 1529.0,1078.9 1529.8,1063.3 1530.6,1048.0 1531.3,1037.9 1531.9,1028.0 1532.6,1018.3 1533.2,1008.7 1533.9,999.4 1534.7,987.2 1535.5,975.3 1536.3,967.1 1537.1,962.0 1537.9,957.5 1538.7,953.9 1539.5,951.6 1540.3,950.7 1541.0,951.8 1541.7,954.8 1542.4,959.3 1543.1,964.9 1543.8,971.0 1544.5,977.3 1545.2,983.3 1545.8,989.0 1546.5,995.3 1547.1,1002.1 1547.8,1009.0 1548.4,1015.6 1549.1,1022.8 1549.8,1030.1 1550.5,1037.5 1551.2,1044.7 1551.9,1051.7 1552.6,1058.2 1553.3,1064.2 1554.1,1070.3 1554.9,1075.9 1555.7,1081.2 1556.5,1086.2 1557.3,1091.3 1558.1,1096.5 1558.8,1101.4 1559.5,1106.7 1560.2,1112.0 1560.9,1117.2 1561.6,1121.9 1562.3,1125.9 1563.0,1128.9 1563.8,1131.7 1564.6,1134.3 1565.4,1136.5 1566.2,1138.0 1567.0,1138.6 1567.5,1125.8 1568.0,1114.9 1568.5,1104.1 1569.0,1093.2 1569.5,1080.4 1570.1,1067.9 1570.8,1055.6 1571.4,1045.0 1572.1,1037.4 1572.7,1034.6 1573.5,1037.6 1574.3,1045.5 1575.1,1056.5 1575.9,1068.7 1576.7,1080.4 1577.3,1090.6 1578.0,1102.4 1578.6,1113.3 1579.2,1120.8 1580.0,1126.8 1580.8,1132.1 1581.6,1136.4 1582.4,1139.2 1583.2,1140.2 1583.9,1139.8 1584.7,1138.5 1585.4,1136.5 1586.1,1133.9 1586.8,1130.9 1587.6,1127.5 1588.3,1123.9 1589.0,1120.1 1589.8,1116.4 1590.5,1112.7 1591.2,1108.8 1591.9,1104.2 1592.6,1099.2 1593.3,1094.0 1594.0,1088.9 1594.7,1084.3 1595.4,1080.4 1596.2,1076.3 1597.0,1072.1 1597.8,1068.0 1598.6,1064.4 1599.4,1061.4 1600.2,1059.4 1601.0,1058.7 1601.7,1060.6 1602.4,1065.6 1603.0,1072.7 1603.7,1080.8 1604.4,1089.1 1605.1,1096.5 1605.9,1105.7 1606.7,1116.3 1607.5,1126.5 1608.3,1134.0 1609.1,1137.0 1609.7,1132.7 1610.3,1122.3 1610.9,1109.0 1611.5,1096.5 1611.9,1089.5 1612.2,1082.3 1612.8,1070.2 1613.5,1058.1 1614.1,1046.0 1614.4,1038.7 1614.8,1031.8 1615.4,1020.1 1616.1,1008.4 1616.7,997.6 1617.4,988.9 1618.0,983.3 1618.7,979.3 1619.5,975.7 1620.2,972.8 1620.9,970.5 1621.7,969.0 1622.4,968.5 1623.2,969.4 1623.9,971.9 1624.7,975.7 1625.4,980.7 1626.2,986.4 1626.9,992.8 1627.7,999.4 1628.2,1005.9 1628.8,1013.7 1629.5,1022.7 1630.2,1031.8 1630.8,1040.9 1631.5,1049.9 1632.1,1057.2 1632.6,1064.2 1633.1,1070.5 1633.7,1076.7 1634.3,1084.6 1635.0,1092.5 1635.7,1100.4 1636.3,1108.3 1636.9,1115.3 1637.4,1120.8 1638.1,1125.4 1638.9,1129.8 1639.6,1133.8 1640.3,1137.4 1641.1,1140.5 1641.8,1143.2 1642.5,1145.4 1643.2,1147.0 1644.0,1148.0 1644.7,1148.3 1645.4,1148.1 1646.2,1147.6 1646.9,1146.8 1647.6,1145.7 1648.3,1144.5 1649.1,1143.1 1649.8,1141.6 1650.5,1140.0 1651.3,1138.5 1652.0,1137.0 1652.6,1135.8 1653.3,1134.7 1653.9,1133.3 1654.6,1131.4 1655.2,1128.9 1655.8,1123.4 1656.5,1113.1 1657.1,1098.5 1657.7,1080.4 1657.9,1072.3 1658.1,1062.6 1658.3,1051.2 1658.5,1039.9 1658.7,1028.6 1658.9,1017.2 1659.1,1008.3 1659.3,999.4 1659.5,990.5 1659.7,981.6 1659.9,970.3 1660.1,959.0 1660.3,947.6 1660.5,936.3 1660.7,927.5 1660.9,918.5 1661.1,904.9 1661.3,889.8 1661.6,877.0 1661.8,870.0 1662.5,862.9 1663.1,858.6 1663.8,857.2 1664.5,859.0 1665.3,863.7 1666.0,870.0 1666.5,877.9 1667.1,890.0 1667.7,904.2 1668.2,918.5 1668.5,925.5 1668.7,932.8 1669.2,944.9 1669.6,956.9 1670.1,969.0 1670.3,976.6 1670.6,983.3 1671.0,990.9 1671.5,997.5 1672.2,1009.6 1673.0,1021.7 1673.7,1033.8 1674.2,1041.0 1674.6,1048.0 1675.1,1054.3 1675.5,1060.5 1676.3,1071.0 1677.0,1081.6 1677.8,1092.1 1678.2,1099.0 1678.7,1104.6 1679.3,1110.0 1680.0,1114.8 1680.6,1118.8 1681.3,1121.4 1681.9,1122.4 1682.7,1121.6 1683.5,1119.4 1684.3,1116.2 1685.1,1112.4 1686.0,1108.2 1686.8,1103.9 1687.6,1100.1 1688.4,1096.9 1689.2,1094.7 1690.0,1093.9 1690.8,1097.4 1691.5,1105.5 1692.3,1115.0 1693.1,1122.4 1693.7,1126.9 1694.4,1131.5 1695.0,1135.5 1695.7,1138.3 1696.3,1139.4 1697.0,1138.1 1697.7,1134.7 1698.3,1129.8 1699.0,1124.1 1699.7,1118.1 1700.4,1112.7 1701.2,1107.5 1702.0,1102.7 1702.7,1097.3 1703.5,1090.2 1704.3,1080.4 1704.6,1074.1 1704.8,1066.1 1705.3,1054.0 1705.7,1042.0 1706.2,1029.9 1706.4,1022.5 1706.7,1015.6 1707.3,1001.7 1707.9,988.9 1708.5,977.3 1709.1,967.1 1709.7,957.6 1710.4,949.0 1711.0,941.1 1711.7,933.7 1712.3,926.6 1713.0,919.6 1713.6,913.1 1714.3,906.9 1714.9,900.7 1715.6,894.3 1716.2,888.7 1716.8,883.4 1717.4,877.5 1718.0,870.0 1718.6,857.6 1719.2,847.1 1719.7,836.6 1720.3,826.1 1720.9,813.7 1721.6,826.1 1722.2,836.6 1722.7,847.1 1723.3,857.6 1724.0,870.0 1724.4,880.5 1724.8,893.7 1725.1,907.2 1725.5,918.5 1726.1,932.8 1726.7,945.6 1727.3,956.9 1727.9,967.1 1728.7,980.2 1729.5,991.8 1730.3,999.4 1731.0,1003.5 1731.7,1007.2 1732.4,1010.5 1733.2,1013.4 1733.9,1015.7 1734.6,1017.4 1735.3,1018.5 1736.0,1018.9 1736.6,1015.6 1737.2,1007.2 1737.8,995.7 1738.4,983.3 1738.8,973.4 1739.2,961.0 1739.6,947.6 1740.0,934.7 1740.4,923.2 1740.8,912.2 1741.2,900.3 1741.6,886.2 1741.9,872.5 1742.1,860.8 1742.4,849.1 1742.6,837.5 1742.9,823.7 1743.5,830.0 1744.1,840.5 1744.8,851.2 1745.6,861.8 1746.4,872.5 1747.1,883.2 1747.7,892.0 1748.3,900.0 1749.0,907.5 1749.8,913.7 1750.5,919.7 1751.3,926.6 1752.0,933.9 1752.6,941.9 1753.3,950.3 1753.9,958.8 1754.6,967.1 1755.4,977.2 1756.2,987.5 1757.0,997.7 1757.8,1007.2 1758.6,1015.6 1759.3,1021.9 1760.0,1027.7 1760.7,1033.2 1761.3,1038.3 1762.0,1043.2 1762.7,1048.0 1763.5,1053.5 1764.3,1059.0 1765.1,1064.3 1765.9,1069.2 1766.7,1073.5 1767.5,1077.1 1768.2,1079.7 1768.9,1082.1 1769.6,1084.2 1770.3,1086.2 1771.0,1088.1 1771.7,1089.9 1772.4,1091.7 1773.2,1093.7 1774.0,1095.5 1774.8,1097.2 1775.6,1099.0 1776.4,1100.9 1777.2,1103.0 1777.9,1105.1 1778.6,1107.3 1779.2,1109.7 1779.9,1112.2 1780.6,1114.9 1781.3,1117.6 1781.9,1120.5 1782.6,1123.7 1783.2,1127.0 1783.9,1129.9 1784.5,1132.1 1785.2,1134.0 1785.9,1135.8 1786.7,1137.6 1787.4,1139.1 1788.1,1140.5 1788.8,1141.7 1789.6,1142.6 1790.3,1143.2 1791.0,1143.4 1791.7,1143.4 1792.4,1143.4 1793.1,1143.5 1793.8,1143.5 1794.6,1143.5 1795.3,1143.5 1796.0,1143.5 1796.7,1143.5 1797.5,1143.5 1798.3,1143.4 1799.1,1143.2 1799.9,1143.0 1800.7,1142.7 1801.5,1131.4 1802.3,1119.2 1802.9,1118.1 1803.5,1117.5 1804.1,1117.0 1804.7,1116.0 1805.3,1113.0 1806.0,1107.8 1806.6,1101.8 1807.2,1096.5 1807.9,1090.5 1808.7,1084.1 1809.4,1079.1 1810.1,1077.0 1810.8,1079.8 1811.5,1086.8 1812.2,1096.0 1812.9,1105.3 1813.6,1112.7 1814.3,1118.5 1814.9,1124.6 1815.6,1130.0 1816.2,1133.9 1816.9,1135.4 1817.7,1135.1 1818.5,1134.3 1819.3,1133.2 1820.1,1131.8 1820.9,1130.3 1821.7,1128.7 1822.5,1127.3 1823.2,1126.2 1823.9,1125.2 1824.6,1124.1 1825.3,1122.9 1826.0,1121.5 1826.7,1119.7 1827.4,1117.6 1828.2,1112.7 1829.0,1104.8 1829.8,1096.0 1830.6,1088.4 1831.3,1082.5 1832.0,1076.2 1832.7,1070.1 1833.3,1065.0 1834.0,1061.4 1834.7,1060.0 1835.5,1062.0 1836.3,1067.2 1837.1,1074.4 1837.9,1082.4 1838.7,1090.2 1839.5,1096.5 1840.2,1100.9 1840.9,1105.0 1841.6,1109.0 1842.3,1112.8 1843.0,1116.5 1843.7,1120.2 1844.4,1124.0 1845.2,1129.0 1846.0,1134.6 1846.8,1139.8 1847.6,1143.6 1848.4,1145.1 1849.0,1140.9 1849.7,1129.8 1850.3,1114.2 1850.9,1096.5 1851.1,1089.9 1851.3,1082.3 1851.6,1070.2 1851.8,1058.1 1852.1,1046.0 1852.3,1038.7 1852.5,1031.8 1852.9,1017.6 1853.3,1004.1 1853.7,992.3 1854.1,983.3 1854.7,972.3 1855.3,962.5 1855.9,955.5 1856.5,952.8 1857.2,955.5 1857.8,962.8 1858.5,973.4 1859.1,986.1 1859.8,999.4 1860.2,1010.1 1860.6,1023.9 1861.0,1037.6 1861.4,1048.0 1862.2,1061.2 1863.0,1071.3 1863.8,1080.4 1864.4,1088.0 1865.1,1095.7 1865.7,1102.7 1866.4,1108.6 1867.0,1112.7 1867.7,1115.8 1868.4,1118.5 1869.1,1120.9 1869.8,1122.9 1870.6,1124.7 1871.3,1126.2 1872.0,1127.6 1872.7,1128.9 1873.4,1130.1 1874.1,1131.3 1874.9,1132.3 1875.6,1133.3 1876.3,1134.2 1877.0,1135.0 1877.8,1135.8 1878.5,1136.4 1879.2,1137.0 1880.0,1137.6 1880.8,1138.1 1881.6,1138.6 1882.4,1139.1 1883.2,1139.6 1884.1,1140.0 1884.9,1140.3 1885.7,1140.6 1886.5,1140.8 1887.3,1141.0 1888.1,1141.1 1888.9,1141.2 1889.7,1141.3 1890.5,1141.4 1891.3,1141.4 1892.2,1141.5 1893.0,1141.6 1893.8,1141.6 1894.6,1141.7 1895.4,1141.8 1896.2,1141.9 1897.0,1142.1 1897.8,1142.3 1898.6,1142.6 1899.4,1142.8 1900.2,1143.0 1901.0,1143.2 1901.8,1143.4 1902.6,1143.5 1903.4,1143.5 1904.1,1143.4 1904.8,1143.2 1905.5,1142.8 1906.2,1142.4 1907.0,1141.9 1907.7,1141.3 1908.4,1140.8 1909.1,1140.2 1909.8,1139.5 1910.5,1138.6 1911.2,1137.5 1911.9,1136.4 1912.7,1135.3 1913.4,1134.4 1914.1,1133.8 1914.8,1133.6 1915.6,1134.1 1916.4,1135.5 1917.2,1137.3 1918.0,1139.2 1918.8,1140.8 1919.6,1141.8 1920.3,1142.3 1921.0,1142.7 1921.8,1143.1 1922.5,1143.4 1923.2,1143.7 1923.9,1144.0 1924.7,1144.1 1925.4,1144.3 1926.1,1144.3 1926.8,1144.2 1927.5,1144.0 1928.3,1143.7 1929.0,1143.2 1929.7,1142.5 1930.4,1141.8 1931.2,1140.8 1931.9,1139.8 1932.6,1138.6 1933.2,1136.6 1933.9,1132.9 1934.5,1127.6 1935.2,1120.8 1935.8,1112.7 1936.2,1103.2 1936.6,1088.9 1937.0,1074.3 1937.4,1064.2 1938.1,1053.3 1938.8,1043.7 1939.6,1036.1 1940.3,1031.0 1941.0,1029.2 1941.7,1031.3 1942.5,1036.6 1943.2,1043.6 1944.0,1050.6 1944.7,1056.1 1945.4,1060.3 1946.1,1064.7 1946.8,1068.9 1947.5,1072.7 1948.2,1075.8 1948.9,1077.9 1949.6,1078.7 1950.5,1077.9 1951.4,1075.8 1952.3,1072.7 1953.2,1069.0 1954.0,1064.9 1954.9,1060.8 1955.8,1057.1 1956.7,1054.0 1957.6,1051.9 1958.5,1051.1 1959.3,1052.6 1960.1,1056.4 1960.9,1061.9 1961.7,1068.2 1962.5,1074.6 1963.3,1080.4 1964.0,1085.5 1964.6,1091.4 1965.3,1097.1 1965.9,1101.3 1966.6,1103.0 1967.4,1101.4 1968.2,1096.6 1969.0,1088.7 1969.8,1077.9 1970.6,1064.2 1970.8,1058.0 1971.0,1049.9 1971.3,1037.8 1971.5,1025.8 1971.8,1013.7 1972.0,1006.3 1972.2,999.4 1972.6,985.0 1973.0,971.4 1973.4,959.6 1973.8,950.9 1974.5,940.0 1975.1,930.3 1975.8,922.3 1976.4,917.0 1977.1,915.1 1977.9,926.5 1978.6,936.2 1979.2,946.0 1979.9,955.7 1980.7,967.1 1981.3,977.9 1981.9,990.2 1982.5,1003.0 1983.1,1015.6 1983.7,1028.3 1984.3,1041.3 1984.9,1053.7 1985.5,1064.2 1986.2,1073.9 1986.8,1082.8 1987.5,1090.8 1988.1,1098.1 1988.8,1104.6 1989.4,1110.7 1990.1,1116.7 1990.7,1122.1 1991.4,1126.3 1992.0,1128.9 1992.8,1130.7 1993.6,1132.3 1994.4,1133.6 1995.2,1134.6 1996.0,1135.2 1996.8,1135.4 1997.4,1131.6 1998.0,1122.1 1998.7,1109.5 1999.3,1096.5 1999.8,1082.8 2000.4,1067.2 2000.9,1056.1 2001.7,1046.8 2002.5,1040.0 2003.3,1037.3 2004.0,1039.1 2004.7,1043.9 2005.3,1050.5 2006.0,1058.2 2006.7,1065.8 2007.4,1072.3 2008.2,1079.2 2009.0,1086.5 2009.8,1093.4 2010.6,1099.6 2011.4,1104.6 2012.1,1108.1 2012.8,1111.3 2013.5,1114.1 2014.2,1116.7 2015.0,1119.1 2015.7,1121.4 2016.4,1123.6 2017.1,1125.7 2017.8,1128.0 2018.6,1130.3 2019.3,1132.7 2020.0,1135.1 2020.8,1137.3 2021.5,1139.3 2022.2,1141.0 2022.9,1142.3 2023.7,1143.2 2024.4,1143.5 2025.2,1143.1 2026.0,1141.4 2026.8,1138.1 2027.6,1132.5 2028.4,1124.2 2029.2,1112.7 2029.3,1105.7 2029.4,1094.9 2029.5,1083.6 2029.6,1072.3 2029.7,1060.9 2029.8,1049.6 2029.9,1040.7 2030.0,1031.8 2030.1,1022.9 2030.2,1014.0 2030.3,1002.7 2030.4,991.3 2030.5,980.0 2030.6,968.7 2030.7,959.8 2030.8,950.9 2030.9,936.7 2031.1,922.4 2031.2,910.0 2031.4,897.3 2031.6,886.6 2031.8,870.0 2031.9,861.3 2031.9,848.9 2032.0,835.1 2032.0,822.0 2032.1,808.4 2032.1,794.9 2032.2,781.3 2032.3,767.7 2032.3,754.2 2032.4,740.6 2032.5,727.0 2032.5,713.5 2032.6,699.9 2032.6,685.6 2032.7,669.9 2032.7,657.1 2032.8,651.9 2032.9,657.1 2033.0,669.9 2033.2,685.6 2033.3,699.9 2033.4,713.5 2033.6,727.0 2033.7,740.6 2033.8,754.2 2034.0,767.7 2034.1,781.3 2034.2,794.9 2034.4,808.4 2034.5,822.0 2034.6,835.4 2034.8,849.7 2034.9,862.1 2035.0,870.0 2035.7,889.1 2036.3,900.0 2037.0,910.0 2037.5,918.5 2038.0,929.6 2038.5,942.8 2038.9,956.0 2039.4,967.1 2040.1,979.2 2040.7,990.0 2041.3,999.5 2042.0,1007.5 2042.7,1015.4 2043.4,1023.3 2044.0,1030.1 2044.7,1034.9 2045.4,1036.7 2045.9,1025.0 2046.4,1015.0 2046.8,1005.0 2047.3,995.0 2047.8,983.3 2048.2,971.2 2048.6,957.0 2049.0,943.8 2049.4,934.7 2050.2,923.9 2050.9,914.5 2051.7,907.1 2052.4,902.3 2053.2,900.6 2054.0,911.7 2054.6,921.1 2055.3,930.4 2055.9,939.8 2056.7,950.9 2057.3,962.4 2057.9,975.7 2058.5,988.8 2059.1,999.4 2059.7,1006.6 2060.2,1012.7 2060.8,1018.9 2061.6,1028.7 2062.4,1038.6 2063.2,1048.0 2063.8,1054.9 2064.5,1061.6 2065.1,1068.1 2065.8,1074.3 2066.4,1080.4 2067.1,1086.7 2067.7,1092.9 2068.4,1099.0 2069.0,1104.6 2069.7,1109.5 2070.4,1114.5 2071.1,1119.7 2071.8,1124.9 2072.5,1129.7 2073.2,1133.9 2073.9,1137.2 2074.6,1139.4 2075.3,1140.2 2075.9,1137.5 2076.6,1129.4 2077.2,1115.8 2077.8,1096.5 2077.9,1090.4 2078.0,1082.3 2078.1,1070.2 2078.3,1058.1 2078.4,1046.0 2078.5,1038.5 2078.6,1031.8 2078.8,1022.3 2079.0,1014.0 2079.2,1002.7 2079.4,991.4 2079.6,980.0 2079.8,968.7 2080.0,959.3 2080.2,950.9 2080.7,935.2 2081.1,922.5 2081.6,910.0 2082.1,898.9 2082.5,887.9 2083.0,870.0 2083.1,859.8 2083.2,844.9 2083.4,830.1 2083.5,817.4 2083.6,804.7 2083.7,792.0 2083.8,779.3 2084.0,766.6 2084.1,753.9 2084.2,741.2 2084.3,728.5 2084.5,712.2 2084.6,696.0 2084.7,688.6 2084.9,696.0 2085.0,712.2 2085.2,728.5 2085.3,741.2 2085.5,753.9 2085.6,766.6 2085.8,779.3 2085.9,792.0 2086.0,804.7 2086.2,817.4 2086.3,830.1 2086.5,844.7 2086.6,859.3 2086.8,870.0 2087.2,887.8 2087.7,900.3 2088.1,910.0 2088.6,918.5 2089.2,930.6 2089.9,943.3 2090.5,955.8 2091.2,967.1 2091.9,978.3 2092.6,988.8 2093.4,998.5 2094.1,1007.5 2094.9,1016.9 2095.6,1026.1 2096.4,1034.0 2097.2,1039.9 2097.8,1043.4 2098.5,1046.5 2099.1,1049.2 2099.8,1051.3 2100.4,1052.8 2101.2,1054.0 2102.0,1054.7 2102.8,1055.4 2103.6,1056.3 2104.4,1057.7 2105.0,1061.0 2105.7,1066.9 2106.3,1073.9 2106.9,1080.4 2107.7,1088.0 2108.5,1095.8 2109.3,1103.2 2110.1,1109.5 2110.8,1114.0 2111.5,1118.2 2112.1,1122.0 2112.8,1125.5 2113.5,1128.9 2114.2,1132.1 2114.8,1135.4 2115.5,1138.8 2116.1,1142.0 2116.8,1144.2 2117.4,1145.1 2117.8,1140.4 2118.2,1128.6 2118.6,1112.9 2119.0,1096.5 2119.3,1082.6 2119.5,1066.7 2119.8,1056.1 2120.5,1043.7 2121.1,1033.7 2121.8,1026.4 2122.4,1021.9 2123.1,1020.3 2123.9,1022.8 2124.7,1028.9 2125.5,1036.5 2126.3,1043.6 2127.1,1048.0 2127.7,1049.4 2128.3,1050.4 2128.9,1051.3 2129.5,1052.8 2130.2,1056.2 2130.8,1061.7 2131.5,1068.2 2132.1,1074.7 2132.8,1080.4 2133.6,1086.7 2134.4,1092.7 2135.2,1096.5 2136.0,1098.4 2136.8,1099.8 2137.6,1101.0 2138.4,1101.8 2139.2,1102.6 2140.1,1103.3 2140.9,1104.1 2141.7,1105.1 2142.5,1106.3 2143.3,1107.9 2144.1,1110.4 2144.9,1113.9 2145.7,1117.6 2146.5,1120.8 2147.2,1123.4 2147.9,1126.2 2148.6,1128.9 2149.3,1131.4 2150.0,1133.5 2150.7,1134.9 2151.4,1135.4 2152.1,1135.2 2152.8,1134.8 2153.5,1134.1 2154.2,1133.1 2155.0,1131.9 2155.7,1130.6 2156.4,1129.1 2157.1,1127.4 2157.8,1125.7 2158.5,1123.5 2159.2,1120.6 2159.9,1116.9 2160.6,1112.6 2161.3,1107.8 2162.0,1102.3 2162.7,1096.5 2163.3,1089.6 2163.9,1080.5 2164.5,1071.3 2165.1,1064.2 2165.8,1057.9 2166.5,1051.7 2167.1,1046.1 2167.8,1041.5 2168.5,1038.4 2169.2,1037.3 2170.0,1039.6 2170.8,1045.7 2171.6,1054.1 2172.4,1063.4 2173.2,1072.3 2173.9,1080.1 2174.5,1089.1 2175.2,1098.3 2175.8,1106.5 2176.5,1112.7 2177.3,1118.5 2178.1,1124.1 2178.9,1129.2 2179.7,1133.7 2180.5,1137.1 2181.3,1139.4 2182.1,1140.2 2182.8,1139.9 2183.5,1139.0 2184.3,1137.7 2185.0,1135.8 2185.7,1133.5 2186.4,1130.8 2187.2,1127.8 2187.9,1124.4 2188.6,1120.8 2189.2,1115.7 2189.9,1108.0 2190.5,1098.8 2191.2,1089.2 2191.8,1080.4 2192.5,1071.7 2193.1,1062.6 2193.8,1053.7 2194.4,1045.9 2195.1,1039.9 2195.9,1034.2 2196.6,1028.7 2197.4,1023.5 2198.2,1018.7 2198.9,1014.4 2199.7,1010.8 2200.5,1008.1 2201.2,1006.4 2202.0,1005.8 2202.7,1007.7 2203.4,1012.7 2204.1,1019.5 2204.7,1026.9 2205.4,1033.5 2206.1,1038.2 2206.8,1041.2 2207.5,1043.4 2208.2,1045.4 2209.0,1047.3 2209.7,1049.7 2210.4,1052.9 2211.0,1056.9 2211.7,1062.2 2212.3,1068.3 2212.9,1075.0 2213.5,1082.8 2214.1,1091.7 2214.7,1099.5 2215.3,1106.3 2215.9,1112.7 2216.6,1118.0 2217.2,1121.6 2218.0,1124.5 2218.7,1126.9 2219.5,1129.0 2220.2,1130.7 2221.0,1132.3 2221.8,1133.7 2222.5,1135.0 2223.3,1136.3 2224.1,1137.7 2224.9,1139.2 2225.6,1140.6 2226.4,1142.0 2227.2,1143.1 2227.9,1144.1 2228.7,1144.7 2229.5,1144.9 2230.2,1141.8 2230.9,1133.6 2231.7,1122.6 2232.4,1110.5 2233.1,1099.5 2233.7,1090.7 2234.3,1081.5 2235.0,1072.1 2235.6,1062.7 2236.2,1052.7 2236.8,1042.0 2237.4,1032.4 2238.0,1025.9 2238.7,1021.0 2239.4,1016.6 2240.1,1013.1 2240.8,1010.7 2241.5,1009.9 2242.3,1012.6 2243.1,1019.5 2243.8,1029.2 2244.6,1040.0 2245.4,1050.4 2246.0,1058.7 2246.7,1068.0 2247.3,1077.7 2247.9,1087.3 2248.5,1096.9 2249.1,1107.0 2249.7,1116.4 2250.3,1124.1 2250.9,1131.1 2251.6,1137.9 2252.2,1142.9 2252.8,1144.9 2253.5,1144.0 2254.2,1141.4 2254.9,1137.4 2255.6,1132.2 2256.3,1126.1 2257.0,1119.2 2257.7,1111.8 2258.3,1102.7 2258.9,1090.0 2259.5,1075.9 2260.1,1062.7 2260.7,1048.9 2261.3,1034.4 2262.0,1021.8 2262.6,1013.6 2263.3,1008.2 2264.0,1003.3 2264.7,999.0 2265.4,995.6 2266.1,992.9 2266.8,991.3 2267.5,990.7 2268.2,992.5 2268.9,997.3 2269.7,1004.5 2270.4,1013.2 2271.1,1022.6 2271.8,1032.0 2272.4,1040.7 2273.0,1051.1 2273.6,1062.7 2274.0,1072.8 2274.5,1084.0 2274.9,1093.4 2275.5,1103.0 2276.1,1111.0 2276.7,1117.9 2277.3,1124.9 2277.9,1131.2 2278.5,1133.9 2278.9,1126.2 2279.4,1110.9 2279.8,1099.5 2280.5,1090.8 2281.2,1083.2 2281.9,1076.9 2282.7,1072.1 2283.4,1069.1 2284.1,1068.0 2284.8,1069.1 2285.5,1072.1 2286.2,1076.6 2287.0,1081.9 2287.7,1087.7 2288.4,1093.4 2289.0,1098.9 2289.6,1105.4 2290.2,1112.0 2290.8,1117.9 2291.4,1123.0 2292.1,1127.7 2292.7,1132.0 2293.3,1136.3 2294.0,1141.5 2294.7,1147.0 2295.3,1151.4 2296.0,1153.2 2296.8,1152.2 2297.6,1149.9 2298.4,1147.0 2299.2,1144.7 2300.0,1143.7 2300.7,1144.4 2301.4,1146.3 2302.2,1148.8 2302.9,1151.2 2303.6,1153.1 2304.3,1153.8 2304.9,1151.7 2305.6,1146.7 2306.2,1140.9 2306.8,1136.3 2307.5,1132.7 2308.2,1129.4 2309.0,1126.5 2309.7,1123.9 2310.4,1121.6 2311.1,1119.7 2311.8,1118.1 2312.6,1116.6 2313.3,1115.2 2314.0,1113.6 2314.7,1111.8 2315.5,1109.4 2316.2,1106.8 2317.0,1103.9 2317.8,1100.8"/>
<polyline stroke="#066BE2" points="201.1,622.6 201.8,624.9 202.5,627.1 203.2,629.2 203.9,631.0 204.6,632.4 205.3,633.4 206.0,633.7 206.9,633.6 207.7,633.3 208.6,632.8 209.5,632.2 210.3,631.5 211.2,630.8 212.1,630.1 213.0,629.5 213.8,629.0 214.7,628.7 215.9,628.4 217.2,628.1 218.4,627.8 219.6,627.6 220.8,627.4 222.1,627.2 223.3,627.0 224.5,626.9 225.8,626.8 227.0,626.8 229.5,626.8 231.9,627.0 234.4,627.1 236.9,627.3 239.3,627.6 241.8,627.8 244.3,628.1 246.8,628.3 249.2,628.5 251.7,628.7 254.7,628.9 257.6,629.0 260.6,629.1 263.5,629.3 266.5,629.4 269.5,629.5 272.4,629.6 275.4,629.7 278.3,629.9 281.3,630.0 283.3,630.1 285.2,630.2 287.2,630.3 289.2,630.4 291.1,630.5 293.1,630.6 295.1,630.7 297.1,630.9 299.0,631.0 301.0,631.2 302.0,631.3 303.0,631.4 304.0,631.6 305.0,631.8 305.9,632.0 306.9,632.2 307.9,632.4 308.9,632.5 309.9,632.7 310.9,632.9 311.9,633.1 312.9,633.3 313.9,633.5 314.9,633.7 315.9,633.8 316.8,634.0 317.8,634.2 318.8,634.3 319.8,634.4 320.8,634.4 321.8,634.3 322.8,634.1 323.7,633.7 324.7,633.3 325.7,632.8 326.7,632.2 327.7,631.7 328.6,631.2 329.6,630.8 330.6,630.5 331.6,630.2 332.6,630.0 333.6,629.7 334.6,629.5 335.6,629.3 336.5,629.1 337.5,628.9 338.5,628.8 339.5,628.7 340.5,628.7 341.5,628.8 342.5,629.0 343.5,629.2 344.5,629.6 345.4,630.0 346.4,630.3 347.4,630.7 348.4,630.9 349.4,631.1 350.4,631.2 351.6,631.2 352.9,631.2 354.1,631.2 355.3,631.2 356.5,631.2 357.8,631.2 359.0,631.2 360.2,631.2 361.5,631.2 362.7,631.2 363.7,631.2 364.7,631.0 365.7,630.8 366.7,630.6 367.6,630.4 368.6,630.1 369.6,629.9 370.6,629.7 371.6,629.5 372.6,629.5 373.8,629.5 375.1,629.6 376.3,629.7 377.5,629.9 378.8,630.1 380.0,630.3 381.2,630.5 382.4,630.7 383.7,631.0 384.9,631.2 385.9,631.4 386.9,631.7 387.9,631.9 388.9,632.2 389.9,632.5 390.8,632.8 391.8,633.1 392.8,633.4 393.8,633.6 394.8,633.7 396.5,633.9 398.3,634.1 400.0,634.3 401.7,634.4 403.5,634.5 405.2,634.7 406.9,634.8 408.6,634.8 410.4,634.9 412.1,634.9 413.6,634.9 415.1,634.9 416.5,634.9 418.0,634.9 419.5,634.9 421.0,634.9 422.5,634.9 423.9,634.9 425.4,634.9 426.9,634.9 428.1,634.9 429.4,634.8 430.6,634.6 431.8,634.4 433.0,634.2 434.3,633.9 435.5,633.7 436.7,633.4 438.0,633.1 439.2,632.9 440.4,632.7 441.7,632.4 442.9,632.2 444.1,632.0 445.4,631.7 446.6,631.4 447.8,631.1 449.0,630.8 450.3,630.4 451.5,630.0 452.2,629.7 453.0,629.3 453.7,628.8 454.5,628.2 455.2,627.6 455.9,627.0 456.7,626.4 457.4,625.9 458.2,625.4 458.9,625.0 459.9,624.5 460.9,624.0 461.9,623.5 462.9,623.0 463.9,622.5 464.8,622.1 465.8,621.8 466.8,621.5 467.8,621.4 468.8,621.3 469.6,621.7 470.4,622.7 471.1,624.1 471.9,625.6 472.7,627.2 473.4,628.6 474.2,629.6 475.0,630.0 476.1,630.0 477.2,629.9 478.3,629.8 479.4,629.7 480.6,629.6 481.7,629.4 482.8,629.2 483.9,629.1 485.0,628.9 486.1,628.7 487.2,628.5 488.3,628.2 489.4,627.9 490.5,627.6 491.6,627.3 492.8,627.0 493.9,626.7 495.0,626.5 496.1,626.4 497.2,626.3 498.0,626.4 498.7,626.7 499.5,627.1 500.2,627.6 501.0,628.1 501.8,628.6 502.5,629.1 503.3,629.5 504.2,629.9 505.0,630.3 505.9,630.7 506.8,631.1 507.6,631.5 508.5,631.8 509.4,632.1 510.3,632.3 511.1,632.4 512.0,632.5 512.9,632.4 513.7,632.3 514.6,632.0 515.4,631.7 516.3,631.3 517.2,630.9 518.0,630.5 518.9,630.2 519.7,629.8 520.6,629.5 521.5,629.2 522.3,628.9 523.2,628.6 524.1,628.2 525.0,627.9 525.8,627.6 526.7,627.4 527.6,627.2 528.4,627.0 529.3,627.0 530.1,627.0 530.8,627.2 531.6,627.3 532.3,627.5 533.1,627.7 533.9,627.8 534.6,628.0 535.4,628.0 536.1,627.9 536.9,627.8 537.6,627.7 538.4,627.6 539.1,627.5 539.9,627.5 540.6,627.6 541.4,627.8 542.2,628.0 543.0,628.2 543.8,628.4 544.5,628.5 545.3,628.7 546.0,628.8 546.8,629.0 547.5,629.2 548.3,629.4 549.0,629.5 549.7,629.7 550.5,629.8 551.2,629.9 552.0,630.0 552.7,630.0 553.4,629.9 554.2,629.8 554.9,629.5 555.7,629.2 556.4,628.7 557.0,625.7 557.6,619.3 558.3,612.5 558.9,607.8 559.6,605.1 560.4,603.0 561.1,601.3 561.9,599.7 562.6,597.9 563.3,596.1 564.1,594.6 564.8,592.9 565.6,590.8 566.3,588.0 566.9,583.2 567.5,575.7 568.1,568.2 568.7,563.4 569.5,560.1 570.3,557.3 571.1,555.4 571.9,554.7 572.6,555.8 573.3,558.5 574.0,562.4 574.7,566.5 575.4,570.3 576.1,573.2 576.8,575.5 577.6,577.9 578.3,579.9 579.1,581.4 579.8,581.9 580.5,581.7 581.2,581.1 581.9,580.1 582.7,578.7 583.4,577.1 584.1,575.3 584.8,573.2 585.5,569.7 586.3,564.1 587.0,556.8 587.8,548.2 588.5,538.7 589.1,527.8 589.7,513.3 590.3,499.2 590.9,489.3 591.5,482.6 592.1,476.6 592.8,472.4 593.4,470.8 594.1,471.9 594.9,474.7 595.6,478.9 596.4,483.9 597.1,489.3 597.8,496.7 598.6,507.0 599.3,518.6 600.1,529.7 600.8,538.7 601.5,546.0 602.3,553.0 603.0,559.2 603.8,564.4 604.5,568.3 605.2,571.1 605.9,573.7 606.6,575.9 607.3,577.9 608.0,579.6 608.7,580.9 609.4,581.9 610.1,582.7 610.8,583.5 611.5,584.2 612.3,584.8 613.0,585.2 613.7,585.5 614.4,585.6 615.1,585.5 615.9,585.1 616.6,584.8 617.4,584.4 618.1,584.3 618.9,584.6 619.6,585.5 620.4,586.7 621.2,588.1 622.0,589.3 622.7,590.2 623.5,590.5 624.2,590.1 625.0,589.2 625.7,588.0 626.4,586.6 627.2,585.3 627.9,584.3 628.7,583.6 629.5,583.1 630.2,582.6 631.0,582.2 631.8,581.8 632.5,581.2 633.3,580.4 634.1,579.4 634.9,577.4 635.6,573.9 636.4,569.1 637.1,563.4 637.8,554.5 638.4,542.5 639.1,533.8 639.7,529.1 640.4,525.4 641.0,523.9 641.8,525.3 642.5,528.8 643.2,533.6 644.0,538.7 644.7,545.2 645.5,553.6 646.2,562.0 646.9,568.3 647.6,572.8 648.4,576.8 649.1,580.3 649.9,583.3 650.6,585.9 651.4,588.0 652.1,589.7 652.8,591.3 653.5,592.7 654.2,593.9 654.9,595.0 655.6,595.9 656.3,596.7 657.0,597.4 657.8,598.0 658.5,598.6 659.3,599.1 660.0,599.5 660.7,599.9 661.5,600.3 662.2,600.7 663.0,601.2 663.7,601.6 664.4,602.1 665.2,602.5 665.9,602.9 666.7,603.4 667.4,603.8 668.1,604.2 668.9,604.6 669.6,605.0 670.4,605.4 671.1,605.8 671.8,606.1 672.6,606.5 673.3,606.7 674.1,607.0 674.8,607.3 675.5,607.6 676.3,607.9 677.0,608.2 677.8,608.6 678.5,609.0 679.2,609.5 680.0,610.1 680.7,610.8 681.5,611.5 682.2,612.3 682.9,613.2 683.7,614.0 684.4,614.8 685.2,615.6 685.9,616.4 686.6,617.1 687.4,617.9 688.1,618.6 688.9,619.4 689.6,620.1 690.3,620.9 691.1,621.6 691.8,622.4 692.6,623.1 693.3,623.8 694.1,624.6 694.9,625.5 695.6,626.4 696.4,627.3 697.2,628.2 698.0,629.0 698.8,629.8 699.5,630.3 700.3,630.7 701.1,630.8 703.2,630.8 705.3,630.8 707.4,630.8 709.5,630.8 711.6,630.8 713.7,630.8 715.8,630.8 717.9,630.8 720.0,630.8 722.1,630.8 723.1,630.8 724.1,630.6 725.0,630.5 726.0,630.3 727.0,630.0 728.0,629.8 729.0,629.6 729.9,629.5 730.9,629.3 731.9,629.3 733.0,629.3 734.1,629.3 735.2,629.3 736.3,629.3 737.5,629.3 738.6,629.3 739.7,629.3 740.8,629.3 741.9,629.3 743.0,629.3 743.9,629.1 744.7,628.6 745.6,627.8 746.5,626.8 747.4,625.6 748.2,624.4 749.1,623.2 750.0,622.1 750.8,621.0 751.7,620.2 752.8,619.3 753.9,618.3 755.0,617.3 756.1,616.3 757.2,615.4 758.4,614.5 759.5,613.8 760.6,613.3 761.7,612.9 762.8,612.8 763.5,612.9 764.3,613.1 765.0,613.5 765.8,614.0 766.5,614.6 767.2,615.2 768.0,615.8 768.7,616.5 769.5,617.1 770.2,617.7 770.9,618.3 771.7,619.0 772.4,619.8 773.2,620.6 773.9,621.4 774.6,622.1 775.4,622.8 776.1,623.3 776.9,623.7 777.6,623.9 778.7,624.0 779.8,624.1 780.9,624.1 782.0,624.1 783.2,624.2 784.3,624.2 785.4,624.2 786.5,624.3 787.6,624.3 788.7,624.4 789.8,624.5 790.9,624.8 792.0,625.2 793.1,625.6 794.2,626.1 795.4,626.6 796.5,627.1 797.6,627.7 798.7,628.3 799.8,628.8 800.7,629.3 801.5,629.8 802.4,630.5 803.2,631.1 804.1,631.8 805.0,632.4 805.8,633.0 806.7,633.4 807.5,633.7 808.4,633.8 809.4,633.6 810.4,633.2 811.4,632.5 812.4,631.6 813.3,630.6 814.3,629.5 815.3,628.4 816.3,627.5 817.3,626.6 818.3,625.9 819.3,625.4 820.3,624.9 821.3,624.4 822.3,624.0 823.2,623.6 824.2,623.2 825.2,622.8 826.2,622.4 827.2,621.9 828.2,621.4 829.2,620.8 830.2,620.1 831.1,619.4 832.1,618.6 833.1,617.8 834.1,617.0 835.1,616.3 836.0,615.7 837.0,615.2 838.0,614.8 838.8,614.6 839.5,614.3 840.3,614.1 841.1,613.9 841.9,613.7 842.7,613.6 843.4,613.5 844.2,613.5 845.1,613.6 845.9,613.7 846.8,613.9 847.6,614.1 848.5,614.4 849.4,614.7 850.2,614.9 851.1,615.1 851.9,615.2 852.8,615.3 854.0,615.3 855.3,615.2 856.5,615.1 857.8,615.0 859.0,614.9 860.2,614.8 861.5,614.7 862.7,614.6 864.0,614.5 865.2,614.5 866.4,614.6 867.7,614.8 868.9,615.2 870.1,615.7 871.4,616.3 872.6,616.9 873.8,617.6 875.0,618.2 876.3,618.8 877.5,619.4 878.7,620.0 880.0,620.6 881.2,621.2 882.5,621.8 883.7,622.5 884.9,623.1 886.2,623.7 887.4,624.2 888.7,624.7 889.9,625.1 891.1,625.4 892.4,625.8 893.6,626.1 894.8,626.4 896.0,626.6 897.3,626.9 898.5,627.1 899.7,627.3 901.0,627.5 902.2,627.6 904.4,627.8 906.6,628.0 908.9,628.2 911.1,628.3 913.3,628.5 915.5,628.6 917.7,628.7 920.0,628.7 922.2,628.8 924.4,628.8 925.6,628.8 926.9,628.7 928.1,628.5 929.3,628.4 930.5,628.2 931.8,628.0 933.0,627.9 934.2,627.7 935.5,627.6 936.7,627.6 938.2,627.7 939.7,627.9 941.1,628.1 942.6,628.5 944.1,628.9 945.6,629.2 947.1,629.6 948.5,629.8 950.0,630.0 951.5,630.1 952.5,630.1 953.5,630.1 954.5,630.1 955.5,630.1 956.5,630.1 957.4,630.1 958.4,630.1 959.4,630.1 960.4,630.1 961.4,630.1 962.1,630.0 962.9,629.8 963.6,629.4 964.4,629.0 965.1,628.5 965.8,628.0 966.6,627.5 967.3,627.0 968.1,626.7 968.8,626.4 969.5,626.2 970.3,626.0 971.0,625.8 971.8,625.7 972.5,625.5 973.2,625.4 974.0,625.3 974.7,625.2 975.5,625.1 976.2,625.1 976.9,625.2 977.7,625.4 978.4,625.8 979.2,626.2 979.9,626.7 980.6,627.2 981.4,627.6 982.1,628.0 982.9,628.2 983.6,628.3 984.4,628.2 985.1,628.1 985.9,627.8 986.7,627.5 987.5,627.3 988.2,627.0 989.0,626.9 989.8,626.8 991.4,626.8 993.0,626.9 994.6,627.1 996.2,627.3 997.8,627.5 999.4,627.8 1001.0,628.0 1002.6,628.3 1004.2,628.6 1005.8,628.8 1007.5,629.1 1009.3,629.4 1011.0,629.8 1012.7,630.2 1014.5,630.6 1016.2,631.0 1017.9,631.3 1019.6,631.6 1021.4,631.7 1023.1,631.8 1024.3,631.8 1025.6,631.8 1026.8,631.7 1028.0,631.7 1029.2,631.7 1030.5,631.6 1031.7,631.5 1032.9,631.5 1034.2,631.4 1035.4,631.3 1036.4,631.2 1037.4,631.0 1038.4,630.8 1039.4,630.5 1040.3,630.2 1041.3,629.9 1042.3,629.7 1043.3,629.5 1044.3,629.3 1045.3,629.3 1046.3,629.3 1047.3,629.3 1048.3,629.3 1049.3,629.3 1050.2,629.3 1051.2,629.3 1052.2,629.3 1053.2,629.3 1054.2,629.3 1055.2,629.3 1056.0,629.2 1056.7,629.0 1057.5,628.8 1058.2,628.4 1059.0,628.1 1059.8,627.9 1060.5,627.7 1061.3,627.6 1062.1,627.7 1062.8,628.0 1063.6,628.4 1064.4,628.9 1065.2,629.3 1066.0,629.7 1066.7,630.0 1067.5,630.1 1068.7,630.1 1070.0,630.0 1071.2,629.8 1072.4,629.6 1073.7,629.4 1074.9,629.3 1076.1,629.1 1077.3,628.9 1078.6,628.8 1079.8,628.8 1080.8,628.9 1081.8,629.1 1082.8,629.5 1083.8,630.0 1084.8,630.5 1085.7,631.0 1086.7,631.5 1087.7,631.9 1088.7,632.3 1089.7,632.5 1090.7,632.6 1091.7,632.8 1092.7,632.9 1093.7,633.0 1094.7,633.1 1095.6,633.1 1096.6,633.2 1097.6,633.3 1098.6,633.3 1099.6,633.3 1101.1,633.3 1102.6,633.2 1104.0,633.0 1105.5,632.8 1107.0,632.5 1108.5,632.2 1110.0,631.8 1111.4,631.5 1112.9,631.2 1114.4,630.8 1115.1,630.6 1115.9,630.3 1116.6,630.0 1117.4,629.7 1118.1,629.3 1118.8,629.0 1119.6,628.7 1120.3,628.5 1121.1,628.4 1121.8,628.3 1122.8,628.3 1123.8,628.4 1124.7,628.5 1125.7,628.7 1126.7,628.8 1127.7,628.9 1128.7,629.1 1129.6,629.2 1130.6,629.3 1131.6,629.3 1133.1,629.3 1134.6,629.2 1136.1,629.0 1137.6,628.8 1139.0,628.5 1140.5,628.2 1142.0,627.9 1143.5,627.6 1145.0,627.2 1146.5,626.8 1147.2,626.6 1148.0,626.2 1148.7,625.9 1149.5,625.4 1150.2,625.0 1150.9,624.6 1151.7,624.2 1152.4,623.8 1153.2,623.6 1153.9,623.4 1154.6,623.3 1155.4,623.2 1156.1,623.1 1156.9,623.0 1157.6,622.9 1158.3,622.8 1159.1,622.8 1159.8,622.7 1160.6,622.7 1161.3,622.7 1162.2,622.8 1163.0,623.1 1163.9,623.5 1164.7,624.0 1165.6,624.5 1166.5,625.1 1167.3,625.6 1168.2,626.0 1169.0,626.3 1169.9,626.4 1171.0,626.3 1172.1,626.1 1173.2,625.9 1174.3,625.5 1175.5,625.1 1176.6,624.8 1177.7,624.4 1178.8,624.2 1179.9,624.0 1181.0,623.9 1182.5,623.9 1184.1,624.0 1185.6,624.1 1187.2,624.2 1188.7,624.3 1190.2,624.5 1191.8,624.7 1193.3,624.9 1194.9,625.1 1196.4,625.4 1197.2,625.6 1198.0,625.9 1198.7,626.3 1199.5,626.8 1200.3,627.2 1201.0,627.6 1201.8,627.8 1202.6,627.9 1204.0,627.9 1205.4,627.8 1206.8,627.8 1208.2,627.7 1209.5,627.6 1210.9,627.5 1212.3,627.4 1213.7,627.4 1215.1,627.3 1216.5,627.3 1217.2,627.3 1218.0,627.4 1218.8,627.5 1219.5,627.6 1220.2,627.8 1221.0,628.0 1221.8,628.1 1222.5,628.3 1223.2,628.5 1224.0,628.6 1225.0,628.8 1226.0,629.0 1227.0,629.2 1228.0,629.5 1229.0,629.7 1230.1,629.9 1231.1,630.1 1232.1,630.3 1233.1,630.4 1234.1,630.4 1234.8,630.3 1235.6,630.1 1236.3,629.9 1237.1,629.5 1237.8,629.1 1238.6,628.8 1239.3,628.4 1240.1,628.2 1240.8,628.0 1241.6,627.9 1242.6,628.0 1243.6,628.1 1244.6,628.3 1245.6,628.6 1246.7,628.9 1247.7,629.1 1248.7,629.4 1249.7,629.6 1250.7,629.7 1251.7,629.8 1252.4,629.7 1253.1,629.6 1253.8,629.4 1254.6,629.2 1255.3,628.9 1256.0,628.7 1256.7,628.6 1257.6,628.5 1258.5,628.4 1259.3,628.3 1260.2,628.2 1261.1,628.1 1262.0,628.0 1262.9,628.0 1263.7,627.9 1264.6,627.9 1265.5,627.9 1266.5,628.0 1267.5,628.2 1268.5,628.5 1269.5,628.9 1270.5,629.3 1271.6,629.8 1272.6,630.2 1273.6,630.6 1274.6,630.9 1275.6,631.1 1277.0,631.3 1278.4,631.5 1279.7,631.6 1281.1,631.8 1282.5,631.9 1283.9,632.1 1285.3,632.2 1286.6,632.2 1288.0,632.3 1289.4,632.3 1291.0,632.3 1292.7,632.3 1294.3,632.3 1296.0,632.3 1297.6,632.3 1299.2,632.3 1300.9,632.3 1302.5,632.3 1304.2,632.3 1305.8,632.3 1307.1,632.3 1308.3,632.4 1309.6,632.5 1310.8,632.6 1312.1,632.7 1313.4,632.8 1314.6,632.9 1315.9,633.0 1317.1,633.1 1318.4,633.2 1319.7,633.3 1320.9,633.3 1322.2,633.3 1323.4,633.4 1324.7,633.4 1325.9,633.4 1327.2,633.5 1328.4,633.5 1329.7,633.5 1330.9,633.6 1332.2,633.7 1333.4,633.8 1334.7,634.0 1335.9,634.3 1337.2,634.5 1338.5,634.7 1339.7,634.9 1341.0,635.1 1342.2,635.2 1343.5,635.2 1344.3,635.1 1345.1,635.0 1345.9,634.8 1346.7,634.5 1347.4,634.3 1348.2,634.0 1349.0,633.8 1349.8,633.6 1350.8,633.4 1351.8,633.3 1352.8,633.2 1353.8,633.1 1354.8,633.0 1355.9,632.9 1356.9,632.8 1357.9,632.6 1358.9,632.5 1359.9,632.3 1360.7,632.1 1361.5,631.7 1362.4,631.3 1363.2,630.9 1364.0,630.4 1364.8,629.9 1365.6,629.5 1366.5,629.2 1367.3,629.0 1368.1,628.9 1368.8,629.0 1369.5,629.2 1370.2,629.5 1370.9,629.9 1371.6,630.3 1372.3,630.6 1373.0,630.9 1373.7,631.1 1374.5,631.2 1375.3,631.3 1376.1,631.4 1376.8,631.4 1377.6,631.5 1378.4,631.5 1379.2,631.6 1380.0,631.7 1380.8,631.9 1381.5,632.1 1382.2,632.4 1383.0,632.7 1383.8,633.1 1384.5,633.4 1385.2,633.7 1386.0,634.0 1386.8,634.1 1387.5,634.2 1388.3,634.1 1389.1,633.7 1389.9,633.2 1390.7,632.5 1391.4,631.7 1392.2,630.9 1393.0,630.0 1393.8,629.2 1394.5,628.3 1395.3,627.2 1396.0,626.0 1396.7,624.7 1397.5,623.4 1398.2,622.3 1398.9,621.3 1399.7,620.7 1400.4,620.5 1401.2,621.5 1402.0,623.9 1402.8,627.0 1403.6,630.1 1404.4,632.5 1405.2,633.5 1405.9,632.9 1406.6,631.2 1407.3,628.4 1408.1,624.7 1408.8,620.2 1409.5,614.9 1410.2,609.1 1410.9,602.7 1411.4,594.8 1412.0,584.9 1412.6,573.6 1413.3,562.2 1414.0,550.9 1414.6,539.6 1415.2,530.9 1415.7,521.8 1416.1,514.8 1416.4,507.5 1417.0,495.4 1417.7,483.4 1418.3,471.3 1418.6,463.3 1419.0,457.0 1419.7,450.4 1420.4,444.9 1421.1,440.7 1421.8,438.0 1422.5,437.0 1422.8,442.7 1423.2,452.1 1423.7,464.9 1424.3,477.7 1424.8,490.5 1425.2,498.3 1425.5,505.6 1426.2,518.1 1426.8,528.7 1427.4,539.2 1428.0,549.8 1428.7,562.3 1429.5,566.9 1430.3,570.3 1431.1,573.0 1431.9,574.9 1432.8,576.5 1433.6,578.0 1434.4,579.5 1435.2,581.2 1436.0,583.5 1436.8,586.5 1437.6,590.6 1438.4,595.9 1439.2,601.6 1440.0,607.3 1440.8,612.4 1441.4,616.4 1442.0,620.7 1442.7,624.0 1443.3,625.4 1444.0,623.7 1444.8,618.9 1445.5,611.7 1446.2,602.7 1446.5,596.4 1446.8,588.5 1447.3,576.4 1447.8,564.3 1448.3,552.2 1448.6,545.6 1448.9,538.0 1449.2,528.0 1449.4,516.6 1449.8,503.0 1450.1,489.5 1450.4,475.9 1450.8,462.3 1451.0,451.9 1451.3,440.9 1451.5,429.6 1451.8,417.7 1452.0,405.9 1452.2,394.1 1452.5,382.3 1452.7,370.5 1452.9,358.7 1453.2,344.2 1453.4,335.5 1454.1,337.2 1454.8,342.2 1455.5,349.9 1456.2,360.0 1456.6,370.7 1456.9,384.9 1457.3,397.5 1457.6,410.2 1458.0,422.8 1458.3,435.5 1458.7,448.1 1459.0,461.1 1459.4,473.0 1459.8,482.3 1460.1,490.8 1460.6,502.2 1461.1,513.5 1461.5,524.8 1462.0,536.2 1462.3,545.7 1462.7,554.0 1463.5,567.2 1464.3,578.6 1465.1,588.3 1465.9,596.3 1466.7,602.7 1467.4,607.7 1468.1,612.7 1468.8,617.3 1469.6,621.5 1470.3,625.1 1471.0,627.8 1471.7,629.6 1472.4,630.2 1473.2,628.8 1474.0,624.9 1474.8,619.0 1475.2,612.9 1475.5,604.7 1476.1,592.6 1476.7,580.4 1477.3,568.3 1477.6,562.0 1478.0,554.0 1478.2,545.9 1478.4,536.2 1478.6,524.8 1478.8,513.5 1479.1,502.2 1479.3,490.8 1479.5,483.2 1479.7,473.0 1479.8,462.0 1479.9,448.1 1480.0,435.5 1480.1,422.8 1480.1,410.2 1480.2,397.5 1480.3,384.9 1480.4,371.2 1480.5,360.0 1480.7,344.6 1480.9,333.7 1481.2,324.6 1481.4,314.6 1481.6,301.8 1481.9,288.9 1482.1,276.1 1482.4,263.3 1482.6,250.4 1482.9,237.6 1483.1,224.8 1483.4,211.9 1483.6,199.1 1483.8,185.6 1484.1,170.7 1484.3,158.7 1484.5,153.7 1484.8,158.7 1485.1,170.7 1485.4,185.6 1485.8,199.1 1486.1,211.9 1486.5,224.8 1486.8,237.6 1487.2,250.4 1487.5,263.3 1487.9,276.1 1488.2,288.9 1488.6,301.8 1488.9,314.6 1489.3,326.4 1489.6,338.5 1489.9,350.0 1490.2,360.0 1490.7,373.1 1491.3,384.9 1491.8,397.5 1492.3,410.2 1492.9,422.8 1493.4,435.5 1493.9,448.1 1494.5,461.1 1495.0,473.0 1495.5,482.3 1496.1,490.8 1496.8,502.2 1497.5,513.5 1498.2,524.8 1498.9,536.2 1499.5,544.8 1500.0,554.0 1500.6,565.9 1501.2,579.4 1501.7,592.4 1502.3,602.7 1502.9,611.6 1503.5,619.9 1504.1,626.2 1504.7,628.6 1505.3,625.4 1506.0,616.6 1506.6,603.2 1507.2,586.5 1507.4,578.6 1507.6,568.7 1507.8,557.4 1508.0,546.1 1508.2,534.7 1508.4,523.4 1508.6,513.1 1508.8,505.6 1509.4,495.3 1510.1,487.6 1510.7,482.2 1511.4,479.1 1512.0,478.1 1512.8,480.6 1513.6,487.4 1514.4,497.3 1515.2,509.1 1516.0,521.8 1516.4,529.2 1516.7,537.8 1517.3,551.4 1518.0,565.0 1518.6,578.6 1518.9,587.0 1519.3,594.6 1519.9,605.6 1520.5,616.1 1521.1,623.9 1521.7,627.0 1522.3,623.3 1523.0,614.6 1523.6,603.9 1524.2,594.6 1524.8,586.3 1525.5,577.4 1526.1,569.2 1526.8,562.7 1527.4,559.0 1528.1,557.2 1528.8,555.9 1529.6,554.9 1530.3,554.2 1531.0,553.6 1531.7,552.9 1532.5,552.0 1533.2,550.8 1533.9,549.0 1534.7,546.3 1535.5,542.1 1536.3,534.7 1537.1,523.1 1537.9,505.6 1538.0,498.4 1538.1,487.8 1538.2,476.5 1538.3,465.1 1538.4,453.8 1538.5,442.5 1538.6,433.4 1538.7,424.7 1538.8,417.4 1538.9,410.5 1539.0,398.4 1539.2,386.3 1539.3,374.2 1539.4,366.9 1539.5,360.0 1539.7,348.0 1539.9,337.2 1540.0,327.0 1540.2,316.5 1540.5,302.6 1540.7,288.8 1540.9,274.9 1541.2,261.0 1541.4,247.2 1541.6,233.3 1541.8,219.5 1542.1,205.6 1542.3,192.7 1542.4,178.4 1542.6,166.9 1542.8,162.1 1543.0,166.9 1543.2,178.4 1543.5,192.7 1543.7,205.6 1544.0,219.5 1544.2,233.3 1544.5,247.2 1544.8,261.0 1545.1,274.9 1545.4,288.8 1545.6,302.6 1545.9,316.5 1546.1,326.7 1546.4,336.5 1546.6,347.2 1546.8,360.0 1546.9,366.8 1547.0,374.2 1547.1,386.3 1547.3,398.4 1547.4,410.5 1547.5,418.4 1547.6,424.7 1548.0,435.2 1548.3,442.5 1548.8,453.8 1549.2,465.2 1549.7,476.5 1550.2,487.8 1550.5,496.3 1550.9,505.6 1551.3,517.3 1551.6,527.3 1551.8,537.3 1552.1,547.3 1552.5,559.0 1553.3,557.7 1554.1,554.5 1554.9,550.1 1555.7,545.3 1556.5,540.9 1557.3,537.7 1558.1,536.4 1558.7,540.1 1559.3,549.2 1560.0,560.3 1560.6,570.4 1561.2,579.6 1561.8,589.5 1562.4,597.9 1563.0,602.7 1563.8,605.5 1564.6,607.9 1565.4,609.8 1566.2,611.2 1567.0,612.1 1567.8,612.4 1568.5,612.1 1569.1,611.3 1569.8,610.3 1570.4,609.5 1571.1,609.2 1571.9,611.1 1572.7,615.5 1573.5,620.7 1574.3,625.1 1575.1,627.0 1575.8,624.6 1576.5,618.6 1577.2,610.6 1577.8,602.1 1578.5,594.7 1579.2,590.0 1580.0,587.7 1580.7,586.4 1581.5,585.2 1582.2,583.4 1583.0,580.0 1583.6,567.5 1584.1,557.0 1584.5,546.4 1585.0,535.9 1585.6,523.4 1586.3,524.0 1587.0,525.4 1587.7,527.5 1588.4,529.9 1589.2,532.3 1589.9,534.4 1590.6,535.8 1591.3,536.4 1591.5,522.5 1591.6,510.6 1591.8,498.8 1591.9,486.9 1592.1,473.0 1592.5,459.5 1592.8,449.2 1593.2,437.1 1593.6,425.0 1593.9,412.9 1594.3,400.8 1594.7,388.7 1595.0,373.8 1595.4,364.9 1595.9,370.9 1596.5,380.9 1597.1,391.1 1597.8,401.3 1598.5,411.5 1599.1,421.7 1599.7,431.7 1600.2,437.7 1600.9,434.5 1601.6,426.4 1602.2,415.9 1602.9,405.3 1603.6,397.2 1604.3,394.0 1604.8,400.5 1605.4,411.4 1606.0,422.4 1606.7,433.5 1607.4,444.6 1608.0,455.6 1608.6,463.8 1609.1,473.0 1609.5,481.5 1609.8,490.8 1610.3,502.2 1610.8,513.5 1611.2,524.8 1611.7,536.2 1612.0,545.3 1612.4,554.0 1612.8,561.5 1613.1,568.6 1613.7,581.0 1614.3,593.5 1614.9,605.9 1615.2,615.0 1615.6,620.5 1616.3,619.3 1617.1,616.1 1617.8,611.4 1618.5,605.7 1619.2,599.4 1620.0,593.2 1620.7,587.5 1621.4,582.8 1622.2,579.6 1622.9,578.4 1623.7,580.0 1624.5,583.9 1625.3,589.0 1626.1,594.0 1626.9,597.9 1627.7,599.5 1628.4,596.1 1629.1,587.8 1629.8,576.9 1630.4,565.9 1631.1,557.6 1631.8,554.2 1632.6,557.0 1633.4,564.1 1634.2,574.0 1635.0,584.8 1635.8,595.0 1636.6,602.7 1637.3,608.0 1638.0,613.5 1638.7,618.7 1639.3,623.0 1640.0,625.9 1640.7,627.0 1641.5,626.2 1642.3,624.0 1643.1,621.1 1643.9,618.1 1644.7,615.5 1645.5,614.0 1646.2,613.3 1646.9,612.7 1647.7,612.2 1648.4,611.7 1649.1,611.3 1649.8,611.0 1650.6,610.6 1651.3,610.3 1652.0,610.0 1652.7,609.7 1653.4,609.5 1654.2,609.3 1654.9,609.2 1655.6,609.0 1656.3,608.8 1657.1,608.5 1657.8,608.1 1658.5,607.6 1659.1,604.3 1659.7,596.3 1660.3,584.6 1660.9,570.4 1661.1,563.9 1661.3,556.1 1661.6,544.0 1661.8,532.0 1662.1,519.9 1662.3,512.9 1662.5,505.6 1662.7,496.9 1662.9,487.8 1663.1,476.5 1663.3,465.1 1663.5,453.8 1663.7,442.5 1663.9,434.0 1664.1,424.7 1664.2,417.9 1664.3,410.5 1664.5,398.4 1664.6,386.3 1664.8,374.2 1664.9,367.0 1665.0,360.0 1665.2,346.9 1665.4,334.4 1665.6,321.4 1665.8,308.4 1666.1,295.4 1666.3,282.4 1666.5,269.4 1666.7,253.4 1666.9,243.8 1667.4,253.4 1667.9,269.4 1668.4,282.4 1668.9,295.4 1669.4,308.4 1669.9,321.4 1670.4,334.4 1670.9,346.0 1671.4,360.0 1671.6,368.3 1671.8,377.8 1672.0,389.1 1672.2,400.4 1672.4,411.8 1672.6,423.1 1672.8,432.5 1673.0,440.9 1673.3,450.3 1673.5,458.7 1673.9,470.0 1674.2,481.3 1674.6,492.7 1675.0,504.0 1675.2,513.4 1675.5,521.8 1675.9,529.3 1676.2,536.0 1676.8,548.1 1677.4,560.2 1678.0,572.3 1678.3,579.7 1678.7,586.5 1679.5,599.8 1680.3,612.8 1681.1,624.1 1681.9,632.0 1682.7,635.0 1683.5,633.2 1684.3,628.2 1685.1,620.5 1685.8,610.7 1686.6,599.1 1687.4,586.5 1687.7,580.0 1688.0,572.3 1688.4,560.2 1688.9,548.1 1689.4,536.0 1689.6,529.0 1689.9,521.8 1690.2,514.7 1690.4,507.5 1690.9,495.4 1691.3,483.4 1691.8,471.3 1692.0,463.6 1692.3,457.0 1693.0,443.1 1693.8,430.3 1694.5,419.8 1695.3,412.6 1696.0,410.0 1696.7,416.4 1697.4,427.2 1698.2,435.9 1698.9,444.6 1699.6,453.4 1700.3,462.1 1701.1,470.8 1701.8,481.6 1702.5,488.0 1703.2,482.2 1703.9,472.6 1704.6,464.8 1705.3,456.9 1706.1,449.1 1706.8,441.2 1707.5,433.4 1708.2,423.8 1708.9,418.0 1709.7,419.4 1710.4,423.0 1711.2,428.1 1711.9,434.0 1712.7,439.9 1713.4,445.0 1714.2,448.6 1714.9,450.0 1715.1,442.6 1715.4,430.2 1715.7,417.6 1716.0,405.0 1716.2,392.4 1716.5,379.8 1716.8,370.3 1717.0,360.0 1717.2,350.7 1717.3,340.3 1717.5,330.0 1717.7,317.2 1717.9,304.5 1718.2,291.7 1718.4,279.0 1718.6,266.3 1718.8,253.5 1719.0,241.3 1719.1,229.1 1719.3,223.5 1719.6,232.3 1719.9,246.9 1720.2,258.9 1720.5,270.8 1720.8,282.7 1721.1,294.6 1721.4,306.6 1721.7,318.7 1722.0,330.0 1722.3,338.9 1722.6,347.3 1722.9,358.3 1723.3,369.2 1723.7,380.2 1724.0,391.2 1724.3,399.6 1724.6,408.5 1724.8,417.1 1725.1,426.3 1725.4,437.6 1725.7,449.0 1725.9,460.3 1726.2,471.6 1726.5,480.4 1726.7,489.4 1726.9,498.3 1727.1,507.2 1727.4,518.6 1727.7,529.9 1728.0,541.2 1728.3,552.6 1728.5,562.1 1728.7,570.4 1729.3,583.2 1729.8,594.1 1730.3,604.9 1730.8,615.8 1731.4,628.6 1731.7,622.9 1732.0,613.5 1732.5,600.7 1732.9,587.9 1733.4,575.1 1733.7,567.7 1734.0,560.0 1734.3,551.4 1734.5,542.4 1734.9,531.2 1735.2,520.0 1735.6,508.8 1736.0,497.6 1736.2,488.5 1736.5,480.0 1737.0,468.6 1737.4,458.0 1738.0,444.0 1738.5,430.0 1739.1,416.0 1739.7,402.0 1740.1,390.1 1740.6,380.0 1741.1,373.2 1741.7,367.5 1742.3,359.5 1743.0,351.5 1743.7,343.5 1744.3,335.5 1744.9,327.7 1745.4,323.0 1746.0,335.5 1746.6,346.2 1747.1,356.8 1747.7,367.5 1748.3,380.0 1748.6,391.9 1749.0,405.9 1749.3,419.0 1749.7,432.2 1750.0,445.4 1750.4,458.6 1750.7,471.7 1751.1,487.3 1751.4,497.6 1752.2,502.3 1752.9,505.4 1753.7,507.3 1754.5,508.5 1755.2,509.4 1756.0,510.4 1756.8,512.0 1757.5,514.5 1758.3,518.5 1759.0,532.7 1759.7,546.4 1760.4,548.9 1761.1,550.3 1761.8,551.2 1762.5,552.5 1763.2,554.8 1763.7,559.9 1764.3,566.8 1765.0,574.4 1765.7,582.0 1766.3,589.6 1767.0,597.2 1767.6,603.8 1768.1,609.2 1768.8,613.6 1769.5,617.7 1770.2,621.3 1770.9,624.4 1771.6,626.7 1772.3,628.2 1773.0,628.7 1773.4,620.2 1773.8,606.0 1774.2,594.4 1774.6,582.9 1774.9,571.3 1775.3,559.8 1775.7,548.2 1776.1,537.9 1776.5,525.5 1776.7,512.8 1777.0,497.9 1777.2,486.2 1777.4,474.5 1777.5,462.8 1777.7,451.0 1777.9,439.3 1778.1,427.6 1778.4,412.2 1778.6,400.0 1779.2,387.2 1779.7,376.3 1780.2,365.4 1780.7,354.5 1781.3,341.7 1781.8,346.5 1782.4,354.5 1783.1,362.7 1783.8,370.8 1784.4,379.0 1785.1,387.2 1785.7,392.3 1786.2,400.0 1786.4,406.6 1786.5,415.3 1786.8,428.3 1787.0,441.4 1787.3,454.4 1787.4,462.5 1787.6,469.7 1787.9,479.6 1788.2,488.1 1788.6,499.8 1789.0,511.6 1789.4,523.3 1789.8,535.0 1790.1,544.5 1790.4,553.4 1790.8,562.6 1791.2,571.2 1791.7,582.5 1792.2,593.8 1792.6,605.2 1793.1,616.5 1793.5,627.6 1793.9,634.3 1794.6,628.8 1795.3,619.6 1796.0,612.1 1796.7,604.6 1797.4,597.1 1798.1,589.6 1798.8,582.1 1799.5,575.2 1800.2,567.4 1800.7,560.1 1801.1,552.0 1801.9,539.0 1802.7,526.0 1803.5,513.0 1803.9,504.4 1804.4,497.6 1805.2,490.8 1806.0,484.9 1806.8,480.0 1807.6,476.2 1808.4,473.8 1809.2,473.0 1810.0,484.6 1810.6,494.4 1811.3,504.1 1811.9,514.0 1812.7,525.5 1813.0,537.8 1813.3,548.2 1813.5,558.6 1813.8,569.0 1814.1,581.3 1814.8,585.0 1815.5,587.4 1816.2,588.8 1816.9,589.7 1817.6,590.4 1818.3,591.4 1819.0,592.9 1819.7,595.3 1820.5,602.6 1821.2,614.4 1822.0,625.3 1822.8,630.1 1823.6,628.5 1824.3,624.0 1825.1,617.0 1825.9,608.1 1826.6,597.8 1827.4,586.5 1827.8,576.8 1828.3,565.1 1828.8,551.5 1829.4,537.9 1830.0,524.4 1830.5,510.8 1831.0,500.1 1831.4,489.4 1831.8,480.5 1832.1,471.6 1832.6,460.3 1833.1,448.9 1833.5,437.6 1834.0,426.3 1834.3,415.8 1834.7,408.5 1835.4,404.5 1836.1,401.7 1836.7,400.0 1837.4,399.5 1838.0,404.2 1838.6,412.1 1839.3,420.2 1840.1,428.2 1840.9,436.3 1841.6,444.4 1842.2,450.3 1842.8,457.0 1843.4,467.3 1844.0,480.5 1844.6,494.1 1845.2,505.6 1846.0,517.8 1846.8,528.5 1847.6,538.0 1848.3,546.3 1849.0,555.0 1849.7,563.5 1850.4,571.2 1851.1,577.5 1851.8,581.8 1852.5,583.3 1852.9,578.4 1853.4,570.3 1854.1,559.3 1854.9,548.2 1855.6,537.2 1856.1,529.1 1856.5,524.2 1857.2,526.3 1857.9,532.1 1858.5,540.4 1859.2,550.2 1859.9,560.6 1860.6,570.4 1861.2,580.8 1861.8,593.2 1862.4,604.0 1863.0,609.2 1863.8,610.6 1864.6,611.4 1865.4,612.0 1866.2,612.5 1867.0,613.1 1867.8,614.0 1868.5,615.5 1869.2,617.6 1869.9,620.1 1870.6,622.6 1871.3,624.8 1872.0,626.4 1872.7,627.0 1873.2,614.5 1873.7,604.0 1874.1,593.4 1874.6,582.9 1875.1,570.4 1875.8,559.9 1876.5,550.1 1877.2,541.6 1877.8,534.9 1878.5,530.6 1879.2,529.0 1880.0,530.4 1880.8,534.3 1881.6,539.9 1882.4,546.8 1883.2,554.2 1884.0,567.6 1884.8,584.6 1885.6,593.0 1886.3,592.4 1886.9,590.7 1887.6,587.8 1888.2,583.7 1888.9,578.4 1889.4,565.9 1889.9,555.4 1890.3,544.8 1890.8,534.3 1891.3,521.8 1891.5,515.1 1891.7,507.5 1892.0,495.4 1892.2,483.4 1892.5,471.3 1892.7,463.6 1892.9,457.0 1893.5,439.9 1894.2,425.1 1894.8,414.7 1895.4,410.8 1895.8,416.0 1896.3,424.6 1897.0,436.2 1897.8,447.9 1898.5,459.6 1899.0,465.9 1899.4,473.3 1899.7,480.0 1899.9,487.5 1900.4,499.6 1900.8,511.7 1901.3,523.8 1901.5,531.5 1901.8,538.0 1902.5,549.5 1903.2,559.1 1903.8,567.3 1904.5,574.4 1905.2,580.7 1905.9,586.5 1906.7,593.6 1907.5,600.4 1908.3,605.6 1909.1,607.6 1909.8,606.2 1910.5,602.6 1911.2,597.6 1911.9,592.3 1912.6,587.3 1913.3,583.7 1914.0,582.3 1914.8,584.2 1915.6,589.2 1916.4,596.1 1917.2,603.6 1918.0,610.8 1918.7,618.0 1919.3,625.8 1920.0,629.4 1920.7,626.0 1921.5,616.9 1922.2,603.3 1922.9,586.5 1923.1,580.1 1923.3,572.3 1923.6,560.2 1923.8,548.1 1924.1,536.0 1924.3,528.3 1924.5,521.8 1925.3,508.6 1925.9,497.4 1926.6,486.2 1927.2,475.0 1928.0,461.8 1928.4,466.8 1928.8,475.0 1929.5,486.2 1930.3,497.4 1931.0,508.6 1931.4,514.3 1931.8,521.8 1932.0,528.2 1932.2,536.0 1932.5,548.1 1932.7,560.2 1933.0,572.3 1933.2,579.9 1933.4,586.5 1933.9,602.1 1934.5,616.2 1935.0,626.3 1935.5,630.2 1936.1,617.0 1936.6,605.9 1937.1,594.7 1937.6,583.6 1938.2,570.4 1938.8,558.2 1939.3,547.0 1939.9,541.2 1940.7,539.1 1941.5,537.6 1942.3,536.7 1943.1,536.4 1943.8,536.7 1944.5,537.7 1945.2,539.0 1945.9,540.4 1946.7,541.9 1947.4,543.2 1948.1,544.2 1948.8,544.5 1949.5,543.4 1950.2,540.4 1951.0,536.1 1951.7,530.8 1952.4,525.0 1953.1,519.2 1953.8,513.9 1954.6,509.6 1955.3,506.6 1956.0,505.5 1956.7,505.7 1957.4,506.5 1958.2,507.6 1958.9,509.2 1959.6,511.1 1960.3,513.4 1961.1,515.9 1961.8,518.8 1962.5,521.8 1963.2,526.3 1963.9,533.3 1964.5,541.9 1965.2,551.5 1965.9,561.3 1966.6,570.4 1967.2,579.3 1967.9,589.2 1968.5,598.8 1969.2,607.0 1969.8,612.4 1970.5,616.4 1971.2,620.0 1971.9,623.3 1972.7,626.2 1973.4,628.5 1974.1,630.3 1974.8,631.4 1975.5,631.8 1976.0,618.3 1976.5,606.8 1976.9,595.4 1977.4,583.9 1977.9,570.4 1978.1,562.2 1978.3,552.6 1978.5,541.2 1978.7,529.9 1978.9,518.6 1979.1,507.2 1979.3,498.8 1979.5,489.4 1979.6,480.9 1979.7,470.9 1979.9,460.9 1980.0,448.9 1980.2,436.8 1980.3,424.7 1980.4,412.6 1980.6,400.5 1980.7,388.5 1980.9,377.8 1981.0,367.2 1981.1,360.0 1981.8,339.6 1982.5,332.0 1982.8,338.3 1983.2,348.8 1983.6,359.5 1984.0,370.2 1984.4,381.0 1984.8,391.7 1985.2,399.8 1985.5,408.5 1985.8,417.1 1986.0,426.3 1986.4,437.6 1986.7,448.9 1987.0,460.3 1987.4,471.6 1987.6,480.8 1987.9,489.4 1988.2,496.8 1988.5,503.7 1988.9,515.8 1989.4,527.8 1989.9,539.9 1990.1,547.5 1990.4,554.2 1991.2,569.5 1992.0,582.8 1992.8,593.9 1993.6,602.7 1994.3,609.2 1995.0,615.6 1995.7,621.3 1996.3,625.9 1997.0,629.1 1997.7,630.2 1998.5,627.6 1999.3,621.2 2000.1,613.4 2000.9,606.4 2001.7,602.7 2002.3,601.9 2003.0,601.6 2003.6,601.3 2004.3,600.7 2004.9,599.5 2005.1,593.0 2005.3,582.4 2005.5,571.5 2005.8,560.6 2006.0,549.8 2006.2,538.9 2006.4,530.5 2006.6,521.8 2006.8,513.0 2007.0,504.0 2007.2,492.7 2007.4,481.3 2007.6,470.0 2007.8,458.7 2008.0,452.0 2008.2,440.9 2008.2,433.4 2008.3,423.1 2008.3,411.8 2008.3,400.5 2008.4,389.1 2008.4,377.8 2008.5,368.9 2008.5,360.0 2008.5,350.4 2008.6,340.9 2008.6,331.4 2008.7,319.3 2008.7,307.1 2008.8,295.0 2008.8,282.9 2008.8,270.7 2008.9,258.6 2008.9,246.9 2009.0,235.3 2009.0,230.0 2009.1,235.3 2009.1,246.9 2009.2,258.6 2009.3,270.7 2009.4,282.9 2009.5,295.0 2009.6,307.1 2009.7,319.3 2009.8,331.4 2009.9,342.4 2009.9,353.5 2010.0,360.0 2010.8,379.6 2011.5,388.4 2012.2,395.1 2013.0,408.5 2013.2,415.0 2013.4,422.8 2013.7,434.9 2013.9,446.9 2014.2,459.0 2014.4,465.0 2014.6,473.3 2014.7,479.6 2014.7,487.5 2014.8,499.6 2014.9,511.7 2015.0,523.8 2015.0,532.7 2015.1,538.0 2015.8,537.7 2016.6,536.8 2017.3,535.5 2018.1,534.0 2018.8,532.5 2019.6,531.2 2020.3,530.3 2021.1,530.0 2021.8,532.3 2022.4,538.4 2023.1,547.5 2023.7,558.5 2024.4,570.4 2024.8,580.1 2025.2,593.0 2025.6,606.7 2026.0,618.9 2026.4,631.3 2026.8,638.3 2027.0,632.7 2027.2,623.4 2027.5,610.7 2027.7,598.0 2028.0,585.3 2028.2,578.9 2028.4,570.4 2028.5,560.9 2028.6,549.0 2028.7,535.4 2028.8,521.8 2028.9,508.3 2029.0,494.7 2029.1,483.4 2029.2,473.3 2029.4,460.0 2029.5,448.4 2029.7,435.7 2029.9,423.0 2030.0,410.3 2030.2,397.6 2030.4,384.9 2030.5,374.3 2030.7,360.0 2030.7,351.3 2030.8,338.6 2030.8,324.4 2030.9,310.9 2031.0,297.1 2031.0,283.2 2031.1,269.3 2031.1,255.4 2031.2,241.6 2031.2,227.7 2031.3,213.8 2031.3,199.9 2031.4,186.1 2031.5,171.5 2031.5,155.4 2031.6,142.4 2031.6,137.0 2031.7,142.4 2031.7,155.4 2031.8,171.5 2031.8,186.1 2031.9,199.9 2031.9,213.8 2032.0,227.7 2032.1,241.6 2032.1,255.4 2032.2,269.3 2032.3,283.2 2032.3,297.1 2032.4,310.9 2032.4,325.0 2032.5,340.2 2032.5,353.1 2032.6,360.0 2033.2,380.8 2033.8,390.8 2034.3,397.5 2034.9,408.5 2035.2,417.0 2035.4,426.3 2035.8,437.6 2036.1,448.9 2036.4,460.3 2036.8,471.6 2037.0,481.0 2037.3,489.4 2037.9,504.7 2038.5,518.2 2039.1,529.4 2039.7,538.0 2040.4,544.9 2041.1,550.2 2041.8,554.5 2042.4,558.8 2043.1,563.8 2043.8,570.4 2044.4,580.3 2045.0,593.6 2045.6,605.8 2046.2,612.4 2047.0,615.2 2047.8,617.5 2048.6,619.1 2049.4,620.2 2050.2,620.5 2050.8,617.9 2051.4,610.8 2052.1,600.0 2052.7,586.5 2052.9,580.1 2053.1,572.3 2053.4,560.2 2053.6,548.1 2053.9,536.0 2054.1,528.1 2054.3,521.8 2054.7,515.1 2055.2,510.2 2055.9,500.3 2056.7,490.5 2057.4,480.6 2057.9,473.4 2058.3,469.0 2059.0,480.6 2059.6,490.5 2060.3,500.3 2060.9,510.2 2061.6,521.8 2061.8,528.2 2062.0,536.0 2062.3,548.1 2062.5,560.2 2062.8,572.3 2063.0,580.2 2063.2,586.5 2063.6,593.3 2064.1,598.3 2064.8,608.3 2065.6,618.2 2066.3,628.2 2066.8,635.6 2067.2,640.0 2067.9,638.5 2068.5,634.2 2069.2,627.8 2069.8,619.8 2070.5,610.8 2070.9,601.1 2071.3,586.9 2071.7,573.8 2072.1,567.1 2072.7,565.4 2073.3,564.6 2073.9,563.8 2074.5,562.3 2075.1,557.9 2075.7,549.4 2076.3,537.2 2076.9,521.8 2077.1,513.8 2077.3,504.0 2077.5,492.7 2077.8,481.3 2078.0,470.0 2078.2,458.7 2078.4,449.5 2078.6,440.9 2078.8,431.7 2079.1,423.1 2079.4,411.8 2079.7,400.5 2080.0,389.1 2080.3,377.8 2080.6,370.3 2080.8,360.0 2080.9,352.7 2081.0,341.5 2081.0,328.1 2081.1,314.1 2081.2,301.2 2081.3,286.3 2081.4,271.3 2081.5,256.3 2081.6,241.4 2081.7,226.4 2081.8,211.4 2081.9,196.5 2082.0,181.5 2082.1,166.5 2082.2,151.6 2082.3,137.9 2082.4,122.4 2082.4,107.8 2082.5,97.0 2082.6,92.8 2082.7,97.0 2082.8,107.8 2082.8,122.4 2082.9,137.9 2083.0,151.6 2083.1,166.5 2083.2,181.5 2083.3,196.5 2083.4,211.4 2083.5,226.4 2083.6,241.4 2083.7,256.3 2083.8,271.3 2083.9,286.3 2084.0,301.2 2084.1,314.3 2084.2,328.7 2084.2,342.4 2084.3,353.5 2084.4,360.0 2085.0,378.8 2085.6,388.5 2086.1,396.0 2086.7,408.5 2086.9,415.2 2087.1,422.8 2087.4,434.9 2087.6,446.9 2087.9,459.0 2088.1,466.0 2088.3,473.3 2088.5,482.0 2088.7,491.1 2088.9,502.4 2089.1,513.8 2089.3,525.1 2089.5,536.4 2089.7,547.5 2089.9,554.2 2090.4,548.4 2091.0,538.7 2091.6,528.8 2092.3,518.9 2093.0,509.0 2093.6,499.1 2094.2,489.4 2094.7,483.6 2095.2,488.1 2095.8,495.6 2096.5,503.2 2097.1,510.8 2097.8,518.4 2098.5,526.0 2099.1,532.1 2099.6,538.0 2100.2,544.8 2100.9,551.6 2101.5,558.2 2102.2,564.5 2102.8,570.4 2103.5,576.3 2104.2,582.0 2104.9,587.5 2105.5,592.7 2106.2,597.8 2106.9,602.7 2107.7,609.0 2108.5,615.9 2109.3,622.2 2110.1,626.8 2110.9,628.6 2111.5,623.2 2112.1,610.6 2112.7,596.5 2113.3,586.5 2114.0,579.0 2114.8,572.9 2115.5,570.4 2116.3,571.9 2117.1,575.5 2117.9,579.9 2118.7,583.5 2119.5,585.0 2120.2,584.0 2121.0,581.5 2121.7,578.0 2122.5,574.1 2123.2,570.6 2124.0,568.1 2124.7,567.1 2125.4,568.6 2126.1,572.7 2126.8,578.5 2127.4,585.2 2128.1,592.0 2128.8,598.1 2129.5,602.7 2130.2,606.2 2130.9,609.5 2131.6,612.6 2132.3,615.5 2133.0,618.0 2133.7,620.2 2134.4,622.1 2135.2,624.1 2136.0,626.0 2136.8,627.8 2137.6,629.4 2138.4,630.7 2139.2,631.5 2140.0,631.8 2140.6,628.4 2141.2,620.2 2141.9,609.8 2142.5,600.0 2143.2,591.7 2143.8,582.9 2144.5,570.0 2144.8,562.3 2145.0,551.4 2145.2,537.9 2145.5,522.0 2145.6,513.6 2145.7,504.0 2145.8,492.5 2145.9,481.0 2146.1,469.5 2146.2,458.0 2146.3,450.5 2146.4,440.0 2146.4,432.0 2146.5,419.8 2146.5,405.8 2146.5,392.7 2146.6,379.3 2146.6,365.9 2146.6,352.6 2146.7,339.2 2146.7,325.8 2146.8,312.4 2146.8,299.1 2146.8,285.7 2146.9,272.3 2146.9,258.3 2146.9,242.7 2147.0,230.2 2147.0,225.0 2147.1,230.5 2147.2,242.6 2147.3,254.7 2147.4,267.3 2147.5,279.9 2147.7,292.5 2147.8,305.1 2147.9,317.7 2148.0,330.3 2148.1,340.8 2148.2,351.3 2148.3,360.0 2148.5,371.5 2148.7,381.3 2148.9,394.9 2149.2,408.5 2149.4,422.1 2149.6,435.7 2149.8,447.4 2150.0,457.0 2150.5,473.3 2151.0,486.6 2151.5,495.9 2152.0,500.0 2152.7,501.3 2153.4,502.1 2154.1,502.4 2154.9,502.7 2155.6,503.1 2156.3,504.0 2157.0,505.6 2157.3,512.8 2157.5,526.6 2157.8,538.0 2158.4,549.2 2158.8,558.7 2159.3,568.3 2159.8,577.8 2160.3,589.0 2160.9,584.8 2161.5,577.8 2162.3,570.6 2163.1,563.5 2163.9,556.4 2164.7,549.2 2165.3,543.9 2165.9,538.0 2166.6,529.1 2167.2,517.9 2167.9,506.3 2168.5,496.2 2169.2,489.4 2169.9,484.8 2170.6,480.6 2171.3,476.8 2171.9,473.6 2172.6,471.1 2173.3,469.6 2174.0,469.0 2174.5,473.4 2175.1,480.6 2175.8,488.0 2176.4,495.4 2177.1,502.8 2177.8,510.2 2178.4,515.5 2178.9,521.8 2179.3,528.4 2179.6,536.0 2180.2,548.1 2180.8,560.2 2181.4,572.3 2181.7,580.2 2182.1,586.5 2182.8,594.5 2183.6,602.0 2184.3,608.9 2185.0,615.0 2185.8,620.4 2186.5,624.9 2187.2,628.6 2187.9,631.3 2188.7,632.9 2189.4,633.5 2190.1,632.6 2190.9,630.2 2191.6,626.4 2192.3,621.6 2193.1,616.1 2193.8,610.0 2194.5,603.8 2195.2,597.6 2196.0,591.7 2196.7,586.5 2197.4,581.3 2198.1,575.3 2198.8,569.0 2199.5,562.8 2200.2,557.1 2200.9,552.5 2201.6,549.4 2202.3,548.3 2203.0,550.4 2203.7,555.9 2204.4,563.4 2205.0,571.9 2205.7,580.0 2206.4,586.5 2207.1,592.4 2207.8,598.6 2208.6,604.9 2209.3,611.0 2210.0,616.6 2210.7,621.4 2211.5,625.2 2212.2,627.7 2212.9,628.6 2213.7,625.5 2214.5,617.7 2215.3,607.3 2216.1,596.2 2216.9,586.5 2217.6,577.7 2218.4,568.1 2219.1,560.4 2219.8,557.2 2220.6,560.5 2221.4,568.8 2222.2,579.6 2222.9,590.4 2223.7,598.7 2224.5,602.0 2225.3,600.6 2226.1,596.8 2226.9,591.2 2227.7,584.4 2228.4,577.0 2229.2,569.6 2230.0,562.8 2230.8,557.2 2231.6,553.4 2232.4,552.0 2233.2,552.7 2233.9,554.7 2234.7,557.8 2235.5,561.7 2236.2,566.3 2237.0,571.3 2237.8,576.6 2238.5,581.9 2239.3,587.0 2240.0,592.7 2240.8,599.5 2241.5,606.7 2242.3,613.1 2243.0,618.0 2243.8,622.1 2244.6,626.0 2245.4,629.7 2246.1,632.9 2246.9,635.4 2247.7,637.0 2248.5,637.6 2249.2,634.9 2250.0,628.7 2250.8,622.1 2251.5,618.0 2252.1,616.6 2252.8,615.4 2253.4,614.6 2254.0,614.3 2254.8,614.4 2255.6,614.6 2256.3,615.0 2257.1,615.4 2257.9,615.9 2258.7,616.3 2259.4,616.7 2260.2,616.9 2261.0,617.0 2261.8,611.1 2262.6,599.5 2263.2,589.2 2263.8,576.4 2264.4,562.7 2264.9,550.3 2265.4,536.3 2265.8,523.2 2266.3,513.6 2267.0,503.7 2267.7,495.0 2268.3,488.8 2269.0,486.4 2269.7,488.9 2270.4,495.4 2271.0,504.6 2271.7,515.2 2272.4,526.0 2273.0,536.9 2273.6,549.9 2274.2,562.7 2274.8,576.0 2275.5,589.1 2276.1,599.5 2276.8,609.3 2277.6,618.6 2278.3,626.4 2279.1,631.9 2279.8,633.9 2280.5,632.1 2281.2,627.7 2282.0,622.2 2282.7,617.2 2283.4,614.3 2284.2,612.9 2284.9,611.7 2285.7,610.9 2286.5,610.6 2287.2,611.8 2287.9,614.7 2288.7,618.5 2289.4,622.4 2290.1,625.3 2290.8,626.5 2291.2,619.0 2291.6,602.7 2292.0,587.0 2292.4,572.8 2292.9,559.2 2293.3,550.0 2294.1,540.8 2294.8,533.3 2295.6,528.4 2296.3,526.6 2297.1,530.2 2297.9,539.2 2298.6,550.9 2299.4,562.7 2300.0,573.5 2300.6,585.5 2301.2,593.4 2302.0,597.9 2302.8,601.1 2303.5,603.5 2304.3,605.7 2305.0,607.6 2305.7,609.3 2306.4,610.8 2307.1,612.2 2307.8,613.6 2308.5,615.1 2309.2,616.7 2310.0,618.6 2310.7,620.5 2311.5,622.4 2312.2,624.4 2313.0,626.4 2313.7,628.5 2314.5,630.6 2315.2,632.8 2316.0,635.0"/>
</g>
<text class="b" transform="translate(200.5,1850) scale(1,1.04)" font-size="72.5" text-anchor="middle">3500</text>
<text class="b" transform="translate(541.2,1850) scale(1,1.04)" font-size="72.5" text-anchor="middle">3000</text>
<text class="b" transform="translate(881.9,1850) scale(1,1.04)" font-size="72.5" text-anchor="middle">2500</text>
<text class="b" transform="translate(1222.6,1850) scale(1,1.04)" font-size="72.5" text-anchor="middle">2000</text>
<text class="b" transform="translate(1563.3,1850) scale(1,1.04)" font-size="72.5" text-anchor="middle">1500</text>
<text class="b" transform="translate(1904.0,1850) scale(1,1.04)" font-size="72.5" text-anchor="middle">1000</text>
<text class="b" transform="translate(2244.7,1850) scale(1,1.04)" font-size="72.5" text-anchor="middle">500</text>
<text class="b" transform="translate(837,1991.8)" font-size="88.7">Wavenumber (cm<tspan dy="-43.5">-1</tspan><tspan dy="43.5">)</tspan></text>
<text class="b" transform="translate(96,1186.5) rotate(-90)" font-size="88.7">Absorbance (a.u.)</text>
<rect x="379.5" y="62.5" width="782" height="338" fill="#fff" stroke="#000" stroke-width="3"/>
<line x1="394.5" y1="122.3" x2="591" y2="122.3" stroke="#515151" stroke-width="8.9" stroke-linecap="round"/>
<text transform="translate(616.7,153.1) scale(1,1.03)" font-size="88.5">90BAF</text>
<line x1="394.5" y1="231.2" x2="591" y2="231.2" stroke="#F83C3C" stroke-width="8.9" stroke-linecap="round"/>
<text transform="translate(616.7,262.0) scale(1,1.03)" font-size="88.5">FNAB</text>
<line x1="394.5" y1="340.2" x2="591" y2="340.2" stroke="#066BE2" stroke-width="8.9" stroke-linecap="round"/>
<text transform="translate(616.7,371.0) scale(1,1.03)" font-size="88.5">FNAB/90BAF</text>
<text class="b" transform="translate(2186.5,247)" font-size="88.7">c</text>
<text class="b" transform="translate(2226.5,819.5)" font-size="88.7">b</text>
<text class="b" transform="translate(2189,1304)" font-size="88.7">a</text>
</svg></body></html>
